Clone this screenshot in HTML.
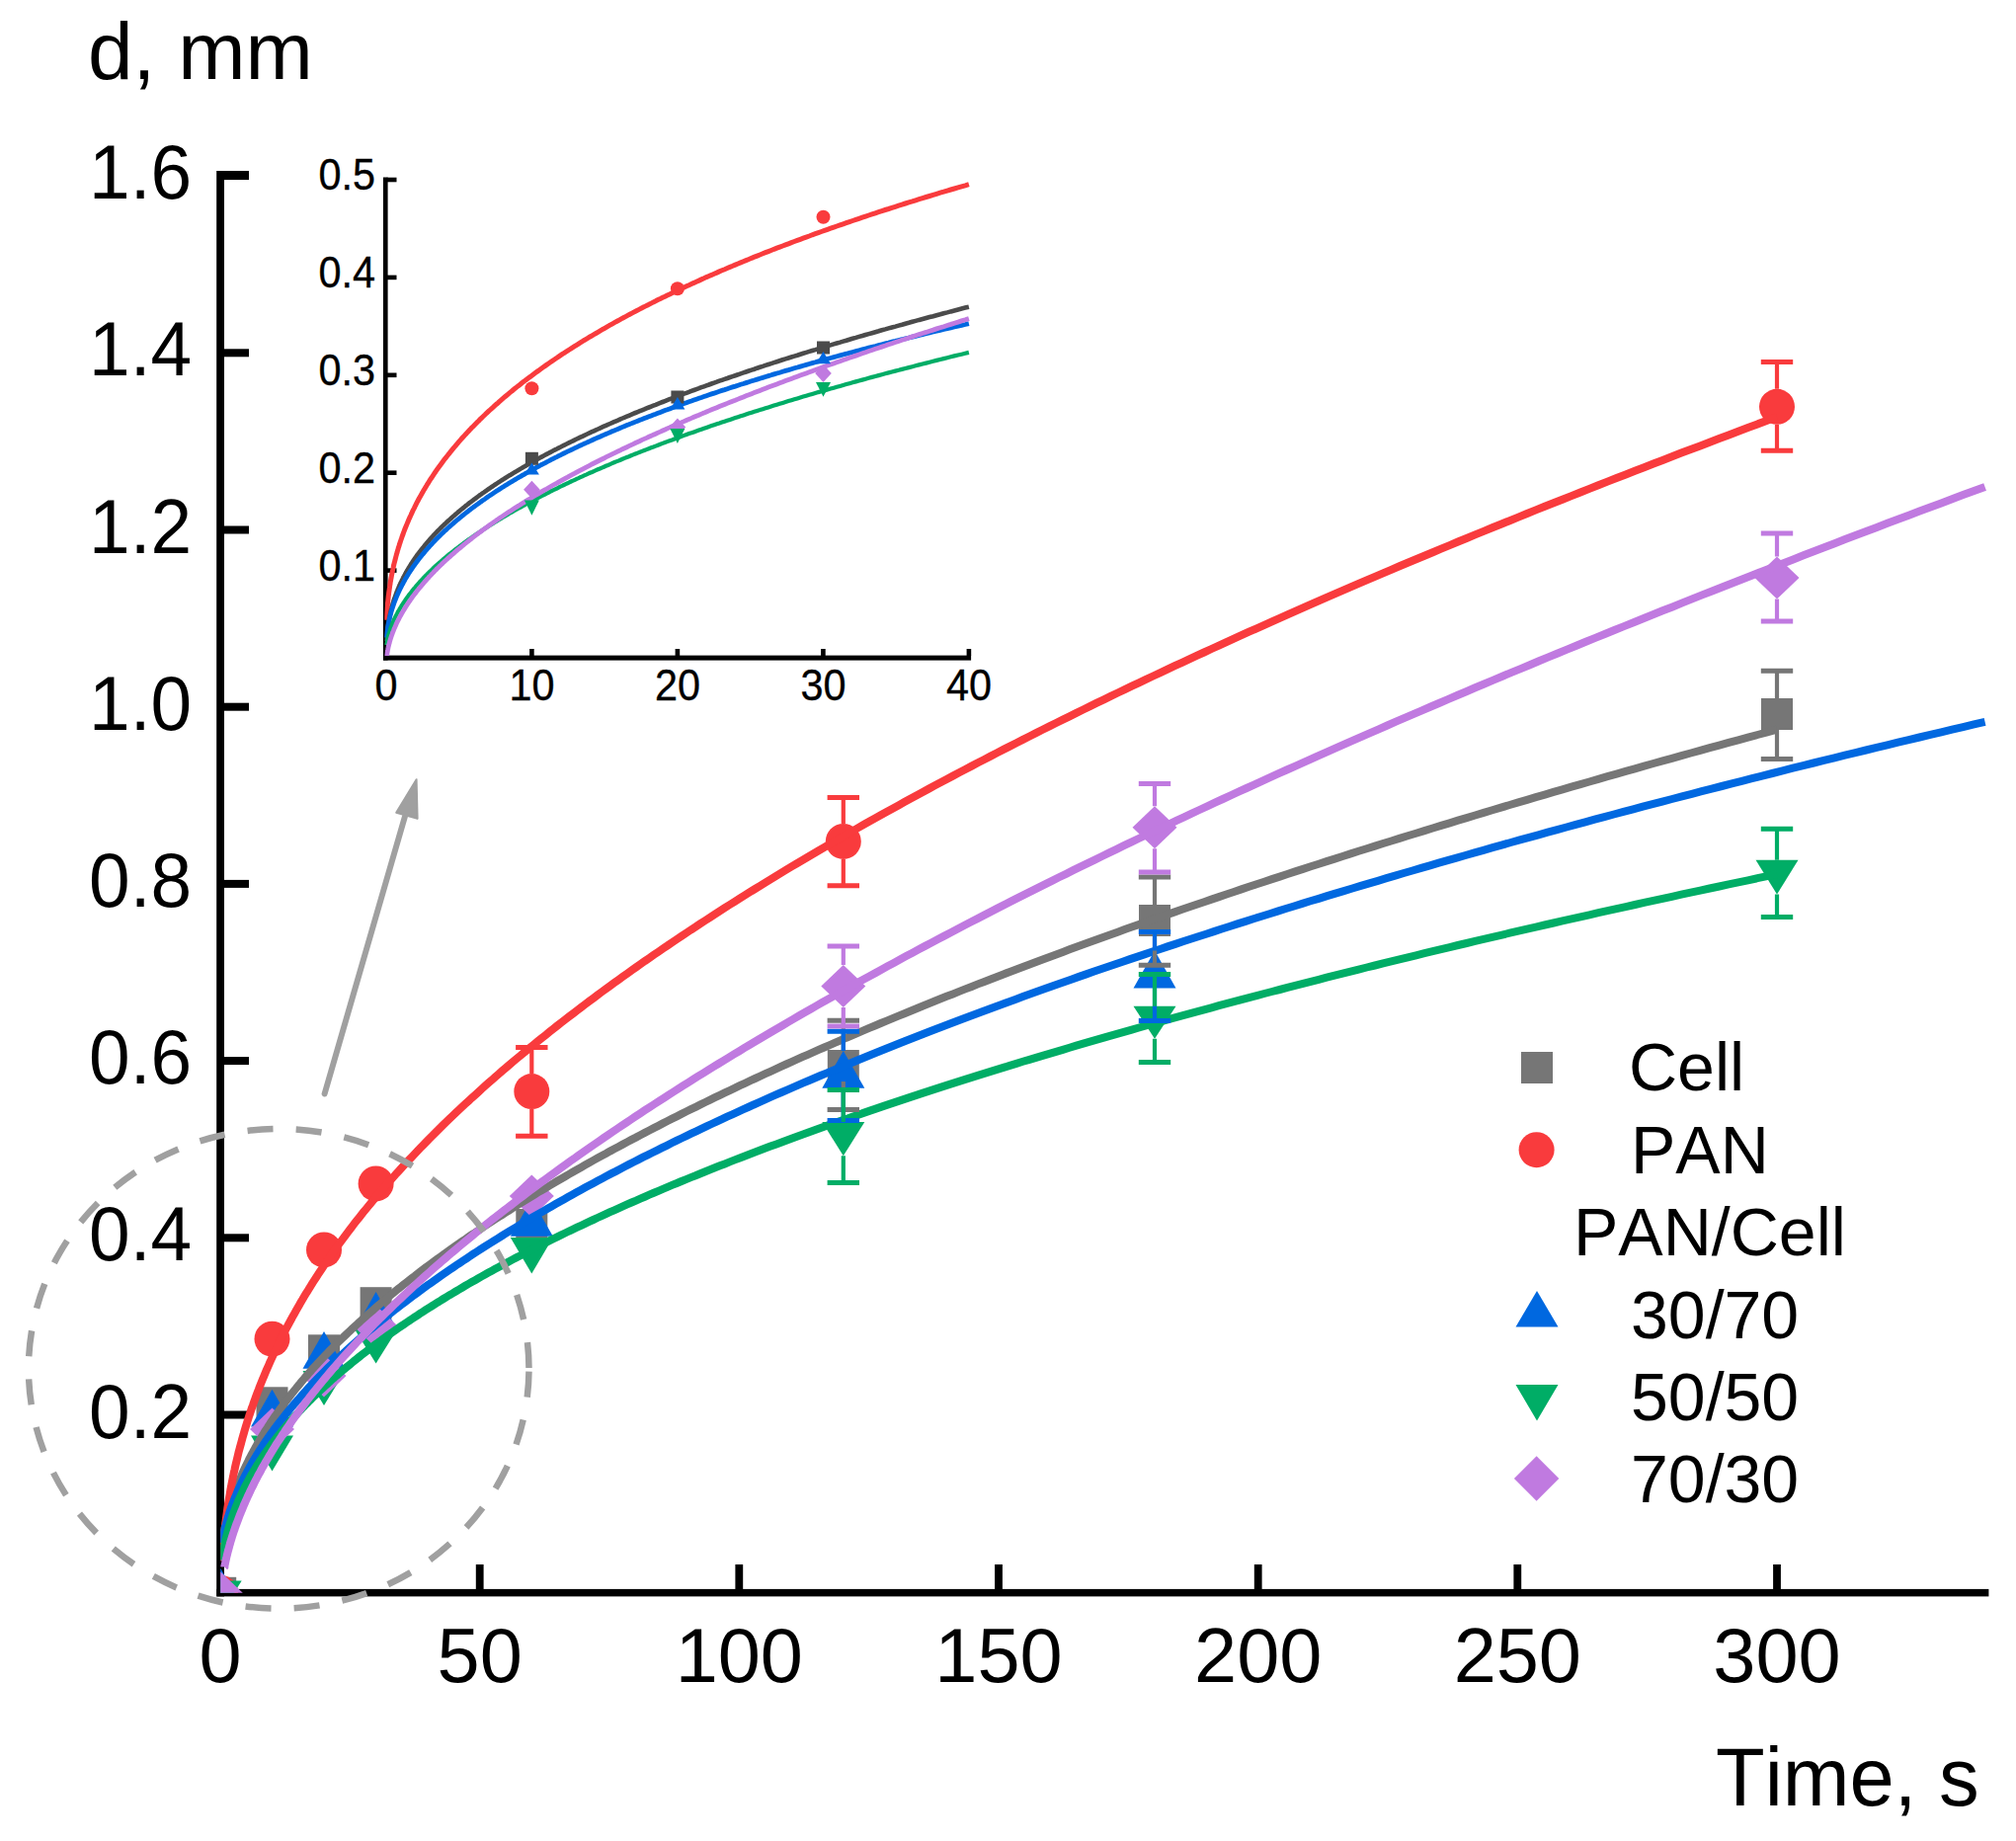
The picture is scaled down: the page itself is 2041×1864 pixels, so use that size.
<!DOCTYPE html><html><head><meta charset="utf-8"><style>html,body{margin:0;padding:0;background:#fff;overflow:hidden}svg{display:block}text{font-family:"Liberation Sans",Arial,sans-serif;font-kerning:none}</style></head><body>
<svg width="2041" height="1864" viewBox="0 0 2041 1864">
<rect width="2041" height="1864" fill="#fff"/>
<defs><clipPath id="pa"><rect x="223.2" y="100" width="1810" height="1512.8"/></clipPath><clipPath id="ia"><rect x="389.3" y="150" width="600" height="514"/></clipPath></defs>
<g fill="#000">
<rect x="219.2" y="173" width="7.8" height="1443.4"/>
<rect x="219.4" y="1608.9" width="1794" height="7.5"/>
<rect x="226" y="1428.5" width="26" height="8.0"/>
<rect x="226" y="1249.3" width="26" height="8.0"/>
<rect x="226" y="1070.1" width="26" height="8.0"/>
<rect x="226" y="890.9" width="26" height="8.0"/>
<rect x="226" y="711.7" width="26" height="8.0"/>
<rect x="226" y="532.5" width="26" height="8.0"/>
<rect x="226" y="353.3" width="26" height="8.0"/>
<rect x="226" y="173.0" width="26" height="9.1"/>
<rect x="481.8" y="1584" width="7.8" height="26"/>
<rect x="744.4" y="1584" width="7.8" height="26"/>
<rect x="1007.1" y="1584" width="7.8" height="26"/>
<rect x="1269.8" y="1584" width="7.8" height="26"/>
<rect x="1532.4" y="1584" width="7.8" height="26"/>
<rect x="1795.1" y="1584" width="7.8" height="26"/>
</g>
<g clip-path="url(#pa)">
<rect x="207.2" y="1596.8" width="32" height="32" fill="#767676"/>
<rect x="259.5" y="1404.3" width="32" height="32" fill="#767676"/>
<rect x="312.0" y="1351.3" width="32" height="32" fill="#767676"/>
<rect x="364.6" y="1303.2" width="32" height="32" fill="#767676"/>
<rect x="522.3" y="1224.0" width="32" height="32" fill="#767676"/>
<rect x="837.8" y="1063.0" width="32" height="32" fill="#767676"/>
<rect x="1153.0" y="916.0" width="32" height="32" fill="#767676"/>
<rect x="1783.0" y="707.0" width="32" height="32" fill="#767676"/>
<circle cx="223.2" cy="1612.8" r="18" fill="#f93b3d"/>
<circle cx="275.5" cy="1355.7" r="18" fill="#f93b3d"/>
<circle cx="328.0" cy="1265.4" r="18" fill="#f93b3d"/>
<circle cx="380.6" cy="1198.4" r="18" fill="#f93b3d"/>
<circle cx="538.3" cy="1105.1" r="18" fill="#f93b3d"/>
<circle cx="853.8" cy="851.9" r="18" fill="#f93b3d"/>
<circle cx="1799.0" cy="411.8" r="18" fill="#f93b3d"/>
<path d="M223.2,1587.8 L244.7,1625.6 L201.7,1625.6Z" fill="#0068e0"/>
<path d="M275.5,1406.7 L297.0,1444.5 L254.0,1444.5Z" fill="#0068e0"/>
<path d="M328.0,1348.0 L349.5,1385.8 L306.5,1385.8Z" fill="#0068e0"/>
<path d="M380.6,1308.1 L402.1,1345.9 L359.1,1345.9Z" fill="#0068e0"/>
<path d="M538.3,1214.0 L559.8,1251.8 L516.8,1251.8Z" fill="#0068e0"/>
<path d="M853.8,1064.0 L875.3,1101.8 L832.3,1101.8Z" fill="#0068e0"/>
<path d="M1169.0,962.6 L1190.5,1000.4 L1147.5,1000.4Z" fill="#0068e0"/>
<path d="M201.7,1600.5 L244.7,1600.5 L223.2,1635.0Z" fill="#00ad66"/>
<path d="M254.0,1453.5 L297.0,1453.5 L275.5,1489.5Z" fill="#00ad66"/>
<path d="M306.5,1388.0 L349.5,1388.0 L328.0,1423.0Z" fill="#00ad66"/>
<path d="M359.1,1346.0 L402.1,1346.0 L380.6,1380.6Z" fill="#00ad66"/>
<path d="M516.8,1253.0 L559.8,1253.0 L538.3,1289.6Z" fill="#00ad66"/>
<path d="M832.3,1136.0 L875.3,1136.0 L853.8,1170.2Z" fill="#00ad66"/>
<path d="M1147.5,1018.7 L1190.5,1018.7 L1169.0,1051.7Z" fill="#00ad66"/>
<path d="M1777.5,870.8 L1820.5,870.8 L1799.0,905.4Z" fill="#00ad66"/>
<path d="M223.2,1591.3 L245.7,1612.8 L223.2,1634.3 L200.7,1612.8Z" fill="#c07ae0"/>
<path d="M275.5,1425.5 L298.0,1447.0 L275.5,1468.5 L253.0,1447.0Z" fill="#c07ae0"/>
<path d="M328.0,1371.5 L350.5,1393.0 L328.0,1414.5 L305.5,1393.0Z" fill="#c07ae0"/>
<path d="M380.6,1321.5 L403.1,1343.0 L380.6,1364.5 L358.1,1343.0Z" fill="#c07ae0"/>
<path d="M538.3,1189.5 L560.8,1211.0 L538.3,1232.5 L515.8,1211.0Z" fill="#c07ae0"/>
<path d="M853.8,976.9 L876.3,998.4 L853.8,1019.9 L831.3,998.4Z" fill="#c07ae0"/>
<path d="M1169.0,816.3 L1191.5,837.8 L1169.0,859.3 L1146.5,837.8Z" fill="#c07ae0"/>
<path d="M1799.0,563.5 L1821.5,585.0 L1799.0,606.5 L1776.5,585.0Z" fill="#c07ae0"/>
</g>
<g clip-path="url(#pa)" fill="none" stroke-width="8">
<path d="M224.8,1563.4 L224.8,1563.4 L224.8,1563.4 L224.8,1563.3 L224.8,1563.3 L224.8,1563.2 L224.8,1563.1 L224.9,1562.9 L224.9,1562.7 L224.9,1562.5 L224.9,1562.2 L225.0,1561.9 L225.0,1561.6 L225.1,1561.2 L225.1,1560.7 L225.2,1560.2 L225.3,1559.7 L225.4,1559.2 L225.5,1558.6 L225.6,1557.9 L225.7,1557.2 L225.8,1556.5 L225.9,1555.8 L226.0,1555.0 L226.2,1554.1 L226.3,1553.3 L226.5,1552.4 L226.7,1551.4 L226.8,1550.5 L227.0,1549.5 L227.2,1548.5 L227.4,1547.4 L227.7,1546.3 L227.9,1545.3 L228.1,1544.1 L228.4,1543.0 L228.6,1541.8 L228.9,1540.6 L229.2,1539.4 L229.5,1538.2 L229.8,1536.9 L230.1,1535.7 L230.4,1534.4 L230.8,1533.1 L231.1,1531.7 L231.5,1530.4 L231.9,1529.0 L232.3,1527.7 L232.7,1526.3 L233.1,1524.9 L233.5,1523.5 L234.0,1522.0 L234.4,1520.6 L234.9,1519.1 L235.4,1517.7 L235.9,1516.2 L236.4,1514.7 L236.9,1513.2 L237.5,1511.7 L238.0,1510.2 L238.6,1508.6 L239.2,1507.1 L239.8,1505.5 L240.4,1503.9 L241.0,1502.4 L241.6,1500.8 L242.3,1499.2 L243.0,1497.6 L243.7,1495.9 L244.4,1494.3 L245.1,1492.7 L245.8,1491.0 L246.6,1489.4 L247.3,1487.7 L248.1,1486.0 L248.9,1484.4 L249.7,1482.7 L250.5,1481.0 L251.4,1479.3 L252.2,1477.6 L253.1,1475.8 L254.0,1474.1 L254.9,1472.4 L255.9,1470.6 L256.8,1468.9 L257.8,1467.1 L258.7,1465.4 L259.7,1463.6 L260.7,1461.8 L261.8,1460.1 L262.8,1458.3 L263.9,1456.5 L265.0,1454.7 L266.1,1452.9 L267.2,1451.0 L268.3,1449.2 L269.5,1447.4 L270.7,1445.6 L271.9,1443.7 L273.1,1441.9 L274.3,1440.0 L275.5,1438.2 L276.8,1436.3 L278.1,1434.4 L279.4,1432.6 L280.7,1430.7 L282.1,1428.8 L283.4,1426.9 L284.8,1425.0 L286.2,1423.1 L287.6,1421.2 L289.0,1419.3 L290.5,1417.4 L292.0,1415.5 L293.5,1413.5 L295.0,1411.6 L296.5,1409.7 L298.1,1407.7 L299.7,1405.8 L301.3,1403.8 L302.9,1401.9 L304.5,1399.9 L306.2,1397.9 L307.8,1396.0 L309.5,1394.0 L311.3,1392.0 L313.0,1390.0 L314.8,1388.0 L316.5,1386.0 L318.3,1384.0 L320.2,1382.0 L322.0,1380.0 L323.9,1378.0 L325.8,1376.0 L327.7,1374.0 L329.6,1372.0 L331.6,1369.9 L333.5,1367.9 L335.5,1365.9 L337.5,1363.8 L339.6,1361.8 L341.6,1359.7 L343.7,1357.7 L345.8,1355.6 L348.0,1353.5 L350.1,1351.5 L352.3,1349.4 L354.5,1347.3 L356.7,1345.2 L358.9,1343.2 L361.2,1341.1 L363.5,1339.0 L365.8,1336.9 L368.1,1334.8 L370.5,1332.7 L372.9,1330.6 L375.3,1328.5 L377.7,1326.4 L380.1,1324.2 L382.6,1322.1 L385.1,1320.0 L387.6,1317.9 L390.1,1315.7 L392.7,1313.6 L395.3,1311.5 L397.9,1309.3 L400.5,1307.2 L403.2,1305.0 L405.9,1302.9 L408.6,1300.7 L411.3,1298.6 L414.1,1296.4 L416.9,1294.2 L419.7,1292.1 L422.5,1289.9 L425.3,1287.7 L428.2,1285.5 L431.1,1283.3 L434.0,1281.2 L437.0,1279.0 L440.0,1276.8 L443.0,1274.6 L446.0,1272.4 L449.0,1270.2 L452.1,1268.0 L455.2,1265.8 L458.4,1263.5 L461.5,1261.3 L464.7,1259.1 L467.9,1256.9 L471.1,1254.7 L474.4,1252.4 L477.6,1250.2 L481.0,1248.0 L484.3,1245.7 L487.6,1243.5 L491.0,1241.2 L494.4,1239.0 L497.9,1236.7 L501.3,1234.5 L504.8,1232.2 L508.3,1230.0 L511.9,1227.7 L515.4,1225.5 L519.0,1223.2 L522.6,1220.9 L526.3,1218.6 L530.0,1216.4 L533.7,1214.1 L537.4,1211.8 L541.1,1209.5 L544.9,1207.2 L548.7,1205.0 L552.6,1202.7 L556.4,1200.4 L560.3,1198.1 L564.2,1195.8 L568.2,1193.5 L572.1,1191.2 L576.1,1188.9 L580.2,1186.5 L584.2,1184.2 L588.3,1181.9 L592.4,1179.6 L596.5,1177.3 L600.7,1174.9 L604.9,1172.6 L609.1,1170.3 L613.4,1168.0 L617.6,1165.6 L621.9,1163.3 L626.3,1160.9 L630.6,1158.6 L635.0,1156.3 L639.4,1153.9 L643.9,1151.6 L648.3,1149.2 L652.8,1146.9 L657.4,1144.5 L661.9,1142.1 L666.5,1139.8 L671.1,1137.4 L675.8,1135.0 L680.4,1132.7 L685.2,1130.3 L689.9,1127.9 L694.6,1125.5 L699.4,1123.2 L704.3,1120.8 L709.1,1118.4 L714.0,1116.0 L718.9,1113.6 L723.8,1111.2 L728.8,1108.8 L733.8,1106.4 L738.8,1104.1 L743.9,1101.7 L748.9,1099.2 L754.1,1096.8 L759.2,1094.4 L764.4,1092.0 L769.6,1089.6 L774.8,1087.2 L780.1,1084.8 L785.4,1082.4 L790.7,1079.9 L796.0,1077.5 L801.4,1075.1 L806.8,1072.7 L812.3,1070.2 L817.8,1067.8 L823.3,1065.4 L828.8,1062.9 L834.4,1060.5 L840.0,1058.1 L845.6,1055.6 L851.3,1053.2 L856.9,1050.7 L862.7,1048.3 L868.4,1045.8 L874.2,1043.4 L880.0,1040.9 L885.9,1038.5 L891.7,1036.0 L897.6,1033.6 L903.6,1031.1 L909.6,1028.6 L915.6,1026.2 L921.6,1023.7 L927.7,1021.2 L933.7,1018.7 L939.9,1016.3 L946.0,1013.8 L952.2,1011.3 L958.4,1008.8 L964.7,1006.4 L971.0,1003.9 L977.3,1001.4 L983.7,998.9 L990.0,996.4 L996.5,993.9 L1002.9,991.4 L1009.4,988.9 L1015.9,986.4 L1022.4,983.9 L1029.0,981.4 L1035.6,978.9 L1042.3,976.4 L1048.9,973.9 L1055.6,971.4 L1062.4,968.9 L1069.2,966.4 L1076.0,963.9 L1082.8,961.3 L1089.7,958.8 L1096.6,956.3 L1103.5,953.8 L1110.5,951.2 L1117.5,948.7 L1124.5,946.2 L1131.6,943.7 L1138.7,941.1 L1145.8,938.6 L1153.0,936.1 L1160.2,933.5 L1167.4,931.0 L1174.7,928.4 L1182.0,925.9 L1189.3,923.4 L1196.7,920.8 L1204.1,918.3 L1211.5,915.7 L1219.0,913.2 L1226.5,910.6 L1234.0,908.1 L1241.6,905.5 L1249.2,903.0 L1256.8,900.4 L1264.5,897.8 L1272.2,895.3 L1280.0,892.7 L1287.7,890.1 L1295.6,887.6 L1303.4,885.0 L1311.3,882.4 L1319.2,879.9 L1327.1,877.3 L1335.1,874.7 L1343.1,872.1 L1351.2,869.6 L1359.3,867.0 L1367.4,864.4 L1375.5,861.8 L1383.7,859.2 L1392.0,856.6 L1400.2,854.0 L1408.5,851.5 L1416.8,848.9 L1425.2,846.3 L1433.6,843.7 L1442.1,841.1 L1450.5,838.5 L1459.0,835.9 L1467.6,833.3 L1476.1,830.7 L1484.8,828.1 L1493.4,825.5 L1502.1,822.9 L1510.8,820.2 L1519.6,817.6 L1528.4,815.0 L1537.2,812.4 L1546.0,809.8 L1554.9,807.2 L1563.9,804.6 L1572.8,801.9 L1581.8,799.3 L1590.9,796.7 L1600.0,794.1 L1609.1,791.5 L1618.2,788.8 L1627.4,786.2 L1636.6,783.6 L1645.9,780.9 L1655.2,778.3 L1664.5,775.7 L1673.9,773.0 L1683.3,770.4 L1692.7,767.8 L1702.2,765.1 L1711.7,762.5 L1721.3,759.8 L1730.9,757.2 L1740.5,754.6 L1750.1,751.9 L1759.8,749.3 L1769.6,746.6 L1779.3,744.0 L1789.1,741.3 L1799.0,738.7" stroke="#767676"/>
<path d="M224.8,1580.6 L224.8,1580.6 L224.8,1580.6 L224.8,1580.5 L224.8,1580.4 L224.8,1580.2 L224.8,1580.0 L224.9,1579.7 L224.9,1579.3 L224.9,1578.8 L224.9,1578.3 L225.0,1577.6 L225.0,1576.9 L225.1,1576.2 L225.1,1575.3 L225.2,1574.3 L225.3,1573.3 L225.4,1572.2 L225.5,1571.0 L225.6,1569.8 L225.7,1568.5 L225.8,1567.1 L225.9,1565.6 L226.0,1564.1 L226.2,1562.5 L226.3,1560.9 L226.5,1559.2 L226.7,1557.4 L226.8,1555.6 L227.0,1553.8 L227.2,1551.9 L227.4,1549.9 L227.7,1548.0 L227.9,1546.0 L228.1,1543.9 L228.4,1541.8 L228.6,1539.7 L228.9,1537.6 L229.2,1535.4 L229.5,1533.2 L229.8,1531.0 L230.1,1528.8 L230.4,1526.5 L230.8,1524.2 L231.1,1521.9 L231.5,1519.6 L231.9,1517.3 L232.3,1514.9 L232.7,1512.6 L233.1,1510.2 L233.5,1507.8 L234.0,1505.3 L234.4,1502.9 L234.9,1500.5 L235.4,1498.0 L235.9,1495.5 L236.4,1493.1 L236.9,1490.6 L237.5,1488.1 L238.0,1485.6 L238.6,1483.0 L239.2,1480.5 L239.8,1478.0 L240.4,1475.4 L241.0,1472.9 L241.6,1470.3 L242.3,1467.7 L243.0,1465.2 L243.7,1462.6 L244.4,1460.0 L245.1,1457.4 L245.8,1454.8 L246.6,1452.2 L247.3,1449.6 L248.1,1446.9 L248.9,1444.3 L249.7,1441.7 L250.5,1439.0 L251.4,1436.4 L252.2,1433.7 L253.1,1431.1 L254.0,1428.4 L254.9,1425.7 L255.9,1423.1 L256.8,1420.4 L257.8,1417.7 L258.7,1415.0 L259.7,1412.3 L260.7,1409.6 L261.8,1406.9 L262.8,1404.2 L263.9,1401.5 L265.0,1398.8 L266.1,1396.1 L267.2,1393.4 L268.3,1390.7 L269.5,1387.9 L270.7,1385.2 L271.9,1382.5 L273.1,1379.7 L274.3,1377.0 L275.5,1374.3 L276.8,1371.5 L278.1,1368.8 L279.4,1366.0 L280.7,1363.2 L282.1,1360.5 L283.4,1357.7 L284.8,1354.9 L286.2,1352.2 L287.6,1349.4 L289.0,1346.6 L290.5,1343.8 L292.0,1341.0 L293.5,1338.3 L295.0,1335.5 L296.5,1332.7 L298.1,1329.9 L299.7,1327.1 L301.3,1324.3 L302.9,1321.5 L304.5,1318.6 L306.2,1315.8 L307.8,1313.0 L309.5,1310.2 L311.3,1307.4 L313.0,1304.5 L314.8,1301.7 L316.5,1298.9 L318.3,1296.1 L320.2,1293.2 L322.0,1290.4 L323.9,1287.5 L325.8,1284.7 L327.7,1281.8 L329.6,1279.0 L331.6,1276.1 L333.5,1273.3 L335.5,1270.4 L337.5,1267.5 L339.6,1264.7 L341.6,1261.8 L343.7,1258.9 L345.8,1256.1 L348.0,1253.2 L350.1,1250.3 L352.3,1247.4 L354.5,1244.5 L356.7,1241.6 L358.9,1238.7 L361.2,1235.8 L363.5,1232.9 L365.8,1230.0 L368.1,1227.1 L370.5,1224.2 L372.9,1221.3 L375.3,1218.4 L377.7,1215.5 L380.1,1212.6 L382.6,1209.7 L385.1,1206.7 L387.6,1203.8 L390.1,1200.9 L392.7,1197.9 L395.3,1195.0 L397.9,1192.1 L400.5,1189.1 L403.2,1186.2 L405.9,1183.2 L408.6,1180.3 L411.3,1177.3 L414.1,1174.4 L416.9,1171.4 L419.7,1168.5 L422.5,1165.5 L425.3,1162.5 L428.2,1159.6 L431.1,1156.6 L434.0,1153.6 L437.0,1150.7 L440.0,1147.7 L443.0,1144.7 L446.0,1141.7 L449.0,1138.7 L452.1,1135.7 L455.2,1132.7 L458.4,1129.7 L461.5,1126.7 L464.7,1123.7 L467.9,1120.7 L471.1,1117.7 L474.4,1114.7 L477.6,1111.7 L481.0,1108.7 L484.3,1105.7 L487.6,1102.6 L491.0,1099.6 L494.4,1096.6 L497.9,1093.6 L501.3,1090.5 L504.8,1087.5 L508.3,1084.4 L511.9,1081.4 L515.4,1078.4 L519.0,1075.3 L522.6,1072.3 L526.3,1069.2 L530.0,1066.2 L533.7,1063.1 L537.4,1060.0 L541.1,1057.0 L544.9,1053.9 L548.7,1050.8 L552.6,1047.8 L556.4,1044.7 L560.3,1041.6 L564.2,1038.5 L568.2,1035.4 L572.1,1032.3 L576.1,1029.3 L580.2,1026.2 L584.2,1023.1 L588.3,1020.0 L592.4,1016.9 L596.5,1013.8 L600.7,1010.7 L604.9,1007.5 L609.1,1004.4 L613.4,1001.3 L617.6,998.2 L621.9,995.1 L626.3,991.9 L630.6,988.8 L635.0,985.7 L639.4,982.5 L643.9,979.4 L648.3,976.3 L652.8,973.1 L657.4,970.0 L661.9,966.8 L666.5,963.7 L671.1,960.5 L675.8,957.4 L680.4,954.2 L685.2,951.0 L689.9,947.9 L694.6,944.7 L699.4,941.5 L704.3,938.4 L709.1,935.2 L714.0,932.0 L718.9,928.8 L723.8,925.6 L728.8,922.4 L733.8,919.2 L738.8,916.0 L743.9,912.8 L748.9,909.6 L754.1,906.4 L759.2,903.2 L764.4,900.0 L769.6,896.8 L774.8,893.6 L780.1,890.4 L785.4,887.1 L790.7,883.9 L796.0,880.7 L801.4,877.4 L806.8,874.2 L812.3,871.0 L817.8,867.7 L823.3,864.5 L828.8,861.2 L834.4,858.0 L840.0,854.7 L845.6,851.5 L851.3,848.2 L856.9,844.9 L862.7,841.7 L868.4,838.4 L874.2,835.1 L880.0,831.8 L885.9,828.6 L891.7,825.3 L897.6,822.0 L903.6,818.7 L909.6,815.4 L915.6,812.1 L921.6,808.8 L927.7,805.5 L933.7,802.2 L939.9,798.9 L946.0,795.6 L952.2,792.3 L958.4,788.9 L964.7,785.6 L971.0,782.3 L977.3,779.0 L983.7,775.6 L990.0,772.3 L996.5,769.0 L1002.9,765.6 L1009.4,762.3 L1015.9,758.9 L1022.4,755.6 L1029.0,752.2 L1035.6,748.9 L1042.3,745.5 L1048.9,742.2 L1055.6,738.8 L1062.4,735.4 L1069.2,732.0 L1076.0,728.7 L1082.8,725.3 L1089.7,721.9 L1096.6,718.5 L1103.5,715.1 L1110.5,711.7 L1117.5,708.3 L1124.5,704.9 L1131.6,701.5 L1138.7,698.1 L1145.8,694.7 L1153.0,691.3 L1160.2,687.9 L1167.4,684.5 L1174.7,681.1 L1182.0,677.6 L1189.3,674.2 L1196.7,670.8 L1204.1,667.3 L1211.5,663.9 L1219.0,660.5 L1226.5,657.0 L1234.0,653.6 L1241.6,650.1 L1249.2,646.7 L1256.8,643.2 L1264.5,639.7 L1272.2,636.3 L1280.0,632.8 L1287.7,629.3 L1295.6,625.9 L1303.4,622.4 L1311.3,618.9 L1319.2,615.4 L1327.1,611.9 L1335.1,608.4 L1343.1,604.9 L1351.2,601.4 L1359.3,597.9 L1367.4,594.4 L1375.5,590.9 L1383.7,587.4 L1392.0,583.9 L1400.2,580.4 L1408.5,576.8 L1416.8,573.3 L1425.2,569.8 L1433.6,566.3 L1442.1,562.7 L1450.5,559.2 L1459.0,555.6 L1467.6,552.1 L1476.1,548.5 L1484.8,545.0 L1493.4,541.4 L1502.1,537.9 L1510.8,534.3 L1519.6,530.7 L1528.4,527.2 L1537.2,523.6 L1546.0,520.0 L1554.9,516.4 L1563.9,512.8 L1572.8,509.3 L1581.8,505.7 L1590.9,502.1 L1600.0,498.5 L1609.1,494.9 L1618.2,491.3 L1627.4,487.6 L1636.6,484.0 L1645.9,480.4 L1655.2,476.8 L1664.5,473.2 L1673.9,469.5 L1683.3,465.9 L1692.7,462.3 L1702.2,458.6 L1711.7,455.0 L1721.3,451.4 L1730.9,447.7 L1740.5,444.1 L1750.1,440.4 L1759.8,436.7 L1769.6,433.1 L1779.3,429.4 L1789.1,425.7 L1799.0,422.1" stroke="#f93b3d"/>
<path d="M224.8,1562.0 L224.8,1562.0 L224.8,1562.0 L224.8,1562.0 L224.8,1561.9 L224.8,1561.9 L224.8,1561.7 L224.9,1561.6 L224.9,1561.4 L224.9,1561.2 L225.0,1561.0 L225.0,1560.7 L225.1,1560.3 L225.1,1560.0 L225.2,1559.6 L225.3,1559.1 L225.4,1558.6 L225.5,1558.1 L225.6,1557.6 L225.7,1557.0 L225.8,1556.3 L225.9,1555.7 L226.1,1555.0 L226.2,1554.2 L226.4,1553.5 L226.5,1552.6 L226.7,1551.8 L226.9,1550.9 L227.1,1550.1 L227.3,1549.1 L227.6,1548.2 L227.8,1547.2 L228.0,1546.2 L228.3,1545.2 L228.6,1544.1 L228.9,1543.1 L229.2,1542.0 L229.5,1540.8 L229.8,1539.7 L230.1,1538.5 L230.5,1537.4 L230.8,1536.2 L231.2,1535.0 L231.6,1533.7 L232.0,1532.5 L232.4,1531.2 L232.8,1529.9 L233.3,1528.6 L233.7,1527.3 L234.2,1525.9 L234.7,1524.6 L235.2,1523.2 L235.7,1521.9 L236.3,1520.5 L236.8,1519.1 L237.4,1517.6 L238.0,1516.2 L238.6,1514.7 L239.2,1513.3 L239.8,1511.8 L240.4,1510.3 L241.1,1508.8 L241.8,1507.3 L242.5,1505.8 L243.2,1504.3 L243.9,1502.7 L244.6,1501.2 L245.4,1499.6 L246.2,1498.0 L247.0,1496.4 L247.8,1494.8 L248.6,1493.2 L249.5,1491.6 L250.3,1490.0 L251.2,1488.3 L252.1,1486.7 L253.0,1485.0 L254.0,1483.4 L254.9,1481.7 L255.9,1480.0 L256.9,1478.3 L257.9,1476.6 L259.0,1474.9 L260.0,1473.2 L261.1,1471.5 L262.2,1469.7 L263.3,1468.0 L264.4,1466.2 L265.6,1464.5 L266.7,1462.7 L267.9,1460.9 L269.1,1459.1 L270.4,1457.3 L271.6,1455.5 L272.9,1453.7 L274.2,1451.9 L275.5,1450.1 L276.8,1448.3 L278.1,1446.4 L279.5,1444.6 L280.9,1442.7 L282.3,1440.9 L283.8,1439.0 L285.2,1437.1 L286.7,1435.3 L288.2,1433.4 L289.7,1431.5 L291.3,1429.6 L292.8,1427.7 L294.4,1425.8 L296.0,1423.8 L297.6,1421.9 L299.3,1420.0 L301.0,1418.0 L302.7,1416.1 L304.4,1414.2 L306.1,1412.2 L307.9,1410.2 L309.7,1408.3 L311.5,1406.3 L313.3,1404.3 L315.2,1402.3 L317.1,1400.3 L319.0,1398.3 L320.9,1396.3 L322.8,1394.3 L324.8,1392.3 L326.8,1390.3 L328.8,1388.3 L330.9,1386.2 L332.9,1384.2 L335.0,1382.2 L337.1,1380.1 L339.3,1378.1 L341.4,1376.0 L343.6,1374.0 L345.9,1371.9 L348.1,1369.8 L350.4,1367.7 L352.6,1365.7 L355.0,1363.6 L357.3,1361.5 L359.6,1359.4 L362.0,1357.3 L364.4,1355.2 L366.9,1353.1 L369.3,1351.0 L371.8,1348.8 L374.3,1346.7 L376.9,1344.6 L379.5,1342.5 L382.0,1340.3 L384.7,1338.2 L387.3,1336.0 L390.0,1333.9 L392.7,1331.7 L395.4,1329.6 L398.1,1327.4 L400.9,1325.2 L403.7,1323.1 L406.5,1320.9 L409.4,1318.7 L412.3,1316.5 L415.2,1314.3 L418.1,1312.1 L421.1,1309.9 L424.1,1307.7 L427.1,1305.5 L430.1,1303.3 L433.2,1301.1 L436.3,1298.9 L439.4,1296.7 L442.6,1294.4 L445.7,1292.2 L448.9,1290.0 L452.2,1287.7 L455.4,1285.5 L458.7,1283.3 L462.0,1281.0 L465.4,1278.8 L468.8,1276.5 L472.2,1274.3 L475.6,1272.0 L479.1,1269.7 L482.5,1267.5 L486.1,1265.2 L489.6,1262.9 L493.2,1260.6 L496.8,1258.4 L500.4,1256.1 L504.1,1253.8 L507.8,1251.5 L511.5,1249.2 L515.2,1246.9 L519.0,1244.6 L522.8,1242.3 L526.7,1240.0 L530.5,1237.7 L534.4,1235.4 L538.3,1233.0 L542.3,1230.7 L546.3,1228.4 L550.3,1226.1 L554.3,1223.7 L558.4,1221.4 L562.5,1219.1 L566.6,1216.7 L570.8,1214.4 L575.0,1212.0 L579.2,1209.7 L583.5,1207.3 L587.8,1205.0 L592.1,1202.6 L596.4,1200.3 L600.8,1197.9 L605.2,1195.5 L609.6,1193.2 L614.1,1190.8 L618.6,1188.4 L623.2,1186.1 L627.7,1183.7 L632.3,1181.3 L636.9,1178.9 L641.6,1176.5 L646.3,1174.1 L651.0,1171.7 L655.8,1169.4 L660.5,1167.0 L665.4,1164.6 L670.2,1162.2 L675.1,1159.8 L680.0,1157.3 L684.9,1154.9 L689.9,1152.5 L694.9,1150.1 L699.9,1147.7 L705.0,1145.3 L710.1,1142.9 L715.3,1140.4 L720.4,1138.0 L725.6,1135.6 L730.9,1133.2 L736.1,1130.7 L741.4,1128.3 L746.8,1125.8 L752.1,1123.4 L757.5,1121.0 L763.0,1118.5 L768.4,1116.1 L773.9,1113.6 L779.4,1111.2 L785.0,1108.7 L790.6,1106.3 L796.2,1103.8 L801.9,1101.4 L807.6,1098.9 L813.3,1096.4 L819.1,1094.0 L824.9,1091.5 L830.7,1089.0 L836.6,1086.6 L842.5,1084.1 L848.4,1081.6 L854.4,1079.2 L860.4,1076.7 L866.4,1074.2 L872.5,1071.7 L878.6,1069.2 L884.7,1066.8 L890.9,1064.3 L897.1,1061.8 L903.4,1059.3 L909.6,1056.8 L915.9,1054.3 L922.3,1051.8 L928.7,1049.3 L935.1,1046.8 L941.5,1044.3 L948.0,1041.8 L954.6,1039.3 L961.1,1036.8 L967.7,1034.3 L974.3,1031.8 L981.0,1029.3 L987.7,1026.8 L994.4,1024.3 L1001.2,1021.7 L1008.0,1019.2 L1014.8,1016.7 L1021.7,1014.2 L1028.6,1011.7 L1035.6,1009.1 L1042.6,1006.6 L1049.6,1004.1 L1056.6,1001.6 L1063.7,999.0 L1070.8,996.5 L1078.0,994.0 L1085.2,991.4 L1092.4,988.9 L1099.7,986.4 L1107.0,983.8 L1114.4,981.3 L1121.8,978.8 L1129.2,976.2 L1136.6,973.7 L1144.1,971.1 L1151.7,968.6 L1159.2,966.1 L1166.8,963.5 L1174.5,961.0 L1182.1,958.4 L1189.9,955.9 L1197.6,953.3 L1205.4,950.8 L1213.2,948.2 L1221.1,945.7 L1229.0,943.1 L1236.9,940.5 L1244.9,938.0 L1252.9,935.4 L1261.0,932.9 L1269.1,930.3 L1277.2,927.7 L1285.3,925.2 L1293.5,922.6 L1301.8,920.0 L1310.1,917.5 L1318.4,914.9 L1326.7,912.3 L1335.1,909.8 L1343.6,907.2 L1352.0,904.6 L1360.5,902.1 L1369.1,899.5 L1377.7,896.9 L1386.3,894.3 L1395.0,891.8 L1403.7,889.2 L1412.4,886.6 L1421.2,884.0 L1430.0,881.5 L1438.8,878.9 L1447.7,876.3 L1456.7,873.7 L1465.6,871.1 L1474.6,868.6 L1483.7,866.0 L1492.8,863.4 L1501.9,860.8 L1511.1,858.2 L1520.3,855.6 L1529.5,853.0 L1538.8,850.4 L1548.2,847.9 L1557.5,845.3 L1566.9,842.7 L1576.4,840.1 L1585.9,837.5 L1595.4,834.9 L1604.9,832.3 L1614.5,829.7 L1624.2,827.1 L1633.9,824.5 L1643.6,821.9 L1653.4,819.3 L1663.2,816.7 L1673.0,814.2 L1682.9,811.6 L1692.8,809.0 L1702.8,806.4 L1712.8,803.8 L1722.8,801.2 L1732.9,798.6 L1743.1,796.0 L1753.2,793.4 L1763.4,790.8 L1773.7,788.2 L1784.0,785.6 L1794.3,783.0 L1804.7,780.4 L1815.1,777.7 L1825.6,775.1 L1836.1,772.5 L1846.6,769.9 L1857.2,767.3 L1867.8,764.7 L1878.5,762.1 L1889.2,759.5 L1899.9,756.9 L1910.7,754.3 L1921.5,751.7 L1932.4,749.1 L1943.3,746.5 L1954.3,743.9 L1965.2,741.3 L1976.3,738.7 L1987.4,736.1 L1998.5,733.4 L2009.6,730.8" stroke="#0068e0"/>
<path d="M224.8,1579.7 L224.8,1579.7 L224.8,1579.7 L224.8,1579.7 L224.8,1579.6 L224.8,1579.5 L224.8,1579.4 L224.9,1579.2 L224.9,1579.0 L224.9,1578.8 L224.9,1578.5 L225.0,1578.2 L225.0,1577.9 L225.1,1577.5 L225.1,1577.0 L225.2,1576.5 L225.3,1576.0 L225.4,1575.4 L225.5,1574.8 L225.6,1574.2 L225.7,1573.5 L225.8,1572.8 L225.9,1572.0 L226.0,1571.2 L226.2,1570.4 L226.3,1569.5 L226.5,1568.6 L226.7,1567.7 L226.8,1566.7 L227.0,1565.7 L227.2,1564.7 L227.4,1563.7 L227.7,1562.6 L227.9,1561.6 L228.1,1560.5 L228.4,1559.3 L228.6,1558.2 L228.9,1557.0 L229.2,1555.8 L229.5,1554.6 L229.8,1553.4 L230.1,1552.2 L230.4,1550.9 L230.8,1549.7 L231.1,1548.4 L231.5,1547.1 L231.9,1545.8 L232.3,1544.5 L232.7,1543.1 L233.1,1541.8 L233.5,1540.4 L234.0,1539.1 L234.4,1537.7 L234.9,1536.3 L235.4,1534.9 L235.9,1533.5 L236.4,1532.1 L236.9,1530.7 L237.5,1529.2 L238.0,1527.8 L238.6,1526.3 L239.2,1524.9 L239.8,1523.4 L240.4,1521.9 L241.0,1520.4 L241.6,1519.0 L242.3,1517.5 L243.0,1515.9 L243.7,1514.4 L244.4,1512.9 L245.1,1511.4 L245.8,1509.9 L246.6,1508.3 L247.3,1506.8 L248.1,1505.2 L248.9,1503.7 L249.7,1502.1 L250.5,1500.6 L251.4,1499.0 L252.2,1497.4 L253.1,1495.8 L254.0,1494.2 L254.9,1492.6 L255.9,1491.0 L256.8,1489.4 L257.8,1487.8 L258.7,1486.2 L259.7,1484.6 L260.7,1483.0 L261.8,1481.4 L262.8,1479.7 L263.9,1478.1 L265.0,1476.5 L266.1,1474.8 L267.2,1473.2 L268.3,1471.5 L269.5,1469.9 L270.7,1468.2 L271.9,1466.6 L273.1,1464.9 L274.3,1463.2 L275.5,1461.5 L276.8,1459.9 L278.1,1458.2 L279.4,1456.5 L280.7,1454.8 L282.1,1453.1 L283.4,1451.4 L284.8,1449.7 L286.2,1448.0 L287.6,1446.3 L289.0,1444.6 L290.5,1442.9 L292.0,1441.2 L293.5,1439.5 L295.0,1437.8 L296.5,1436.0 L298.1,1434.3 L299.7,1432.6 L301.3,1430.9 L302.9,1429.1 L304.5,1427.4 L306.2,1425.6 L307.8,1423.9 L309.5,1422.1 L311.3,1420.4 L313.0,1418.6 L314.8,1416.9 L316.5,1415.1 L318.3,1413.4 L320.2,1411.6 L322.0,1409.8 L323.9,1408.1 L325.8,1406.3 L327.7,1404.5 L329.6,1402.8 L331.6,1401.0 L333.5,1399.2 L335.5,1397.4 L337.5,1395.6 L339.6,1393.8 L341.6,1392.1 L343.7,1390.3 L345.8,1388.5 L348.0,1386.7 L350.1,1384.9 L352.3,1383.1 L354.5,1381.3 L356.7,1379.5 L358.9,1377.7 L361.2,1375.8 L363.5,1374.0 L365.8,1372.2 L368.1,1370.4 L370.5,1368.6 L372.9,1366.8 L375.3,1364.9 L377.7,1363.1 L380.1,1361.3 L382.6,1359.5 L385.1,1357.6 L387.6,1355.8 L390.1,1354.0 L392.7,1352.1 L395.3,1350.3 L397.9,1348.4 L400.5,1346.6 L403.2,1344.8 L405.9,1342.9 L408.6,1341.1 L411.3,1339.2 L414.1,1337.4 L416.9,1335.5 L419.7,1333.6 L422.5,1331.8 L425.3,1329.9 L428.2,1328.1 L431.1,1326.2 L434.0,1324.3 L437.0,1322.5 L440.0,1320.6 L443.0,1318.7 L446.0,1316.9 L449.0,1315.0 L452.1,1313.1 L455.2,1311.2 L458.4,1309.4 L461.5,1307.5 L464.7,1305.6 L467.9,1303.7 L471.1,1301.8 L474.4,1299.9 L477.6,1298.1 L481.0,1296.2 L484.3,1294.3 L487.6,1292.4 L491.0,1290.5 L494.4,1288.6 L497.9,1286.7 L501.3,1284.8 L504.8,1282.9 L508.3,1281.0 L511.9,1279.1 L515.4,1277.2 L519.0,1275.3 L522.6,1273.4 L526.3,1271.5 L530.0,1269.6 L533.7,1267.7 L537.4,1265.7 L541.1,1263.8 L544.9,1261.9 L548.7,1260.0 L552.6,1258.1 L556.4,1256.2 L560.3,1254.2 L564.2,1252.3 L568.2,1250.4 L572.1,1248.5 L576.1,1246.5 L580.2,1244.6 L584.2,1242.7 L588.3,1240.8 L592.4,1238.8 L596.5,1236.9 L600.7,1235.0 L604.9,1233.0 L609.1,1231.1 L613.4,1229.1 L617.6,1227.2 L621.9,1225.3 L626.3,1223.3 L630.6,1221.4 L635.0,1219.4 L639.4,1217.5 L643.9,1215.6 L648.3,1213.6 L652.8,1211.7 L657.4,1209.7 L661.9,1207.8 L666.5,1205.8 L671.1,1203.9 L675.8,1201.9 L680.4,1199.9 L685.2,1198.0 L689.9,1196.0 L694.6,1194.1 L699.4,1192.1 L704.3,1190.2 L709.1,1188.2 L714.0,1186.2 L718.9,1184.3 L723.8,1182.3 L728.8,1180.3 L733.8,1178.4 L738.8,1176.4 L743.9,1174.4 L748.9,1172.5 L754.1,1170.5 L759.2,1168.5 L764.4,1166.6 L769.6,1164.6 L774.8,1162.6 L780.1,1160.6 L785.4,1158.7 L790.7,1156.7 L796.0,1154.7 L801.4,1152.7 L806.8,1150.7 L812.3,1148.8 L817.8,1146.8 L823.3,1144.8 L828.8,1142.8 L834.4,1140.8 L840.0,1138.8 L845.6,1136.8 L851.3,1134.9 L856.9,1132.9 L862.7,1130.9 L868.4,1128.9 L874.2,1126.9 L880.0,1124.9 L885.9,1122.9 L891.7,1120.9 L897.6,1118.9 L903.6,1116.9 L909.6,1114.9 L915.6,1112.9 L921.6,1110.9 L927.7,1108.9 L933.7,1106.9 L939.9,1104.9 L946.0,1102.9 L952.2,1100.9 L958.4,1098.9 L964.7,1096.9 L971.0,1094.9 L977.3,1092.9 L983.7,1090.9 L990.0,1088.9 L996.5,1086.9 L1002.9,1084.9 L1009.4,1082.9 L1015.9,1080.9 L1022.4,1078.9 L1029.0,1076.9 L1035.6,1074.8 L1042.3,1072.8 L1048.9,1070.8 L1055.6,1068.8 L1062.4,1066.8 L1069.2,1064.8 L1076.0,1062.8 L1082.8,1060.7 L1089.7,1058.7 L1096.6,1056.7 L1103.5,1054.7 L1110.5,1052.7 L1117.5,1050.6 L1124.5,1048.6 L1131.6,1046.6 L1138.7,1044.6 L1145.8,1042.6 L1153.0,1040.5 L1160.2,1038.5 L1167.4,1036.5 L1174.7,1034.5 L1182.0,1032.4 L1189.3,1030.4 L1196.7,1028.4 L1204.1,1026.3 L1211.5,1024.3 L1219.0,1022.3 L1226.5,1020.3 L1234.0,1018.2 L1241.6,1016.2 L1249.2,1014.2 L1256.8,1012.1 L1264.5,1010.1 L1272.2,1008.1 L1280.0,1006.0 L1287.7,1004.0 L1295.6,1002.0 L1303.4,999.9 L1311.3,997.9 L1319.2,995.8 L1327.1,993.8 L1335.1,991.8 L1343.1,989.7 L1351.2,987.7 L1359.3,985.7 L1367.4,983.6 L1375.5,981.6 L1383.7,979.5 L1392.0,977.5 L1400.2,975.4 L1408.5,973.4 L1416.8,971.4 L1425.2,969.3 L1433.6,967.3 L1442.1,965.2 L1450.5,963.2 L1459.0,961.1 L1467.6,959.1 L1476.1,957.0 L1484.8,955.0 L1493.4,952.9 L1502.1,950.9 L1510.8,948.8 L1519.6,946.8 L1528.4,944.7 L1537.2,942.7 L1546.0,940.6 L1554.9,938.6 L1563.9,936.5 L1572.8,934.5 L1581.8,932.4 L1590.9,930.4 L1600.0,928.3 L1609.1,926.3 L1618.2,924.2 L1627.4,922.2 L1636.6,920.1 L1645.9,918.1 L1655.2,916.0 L1664.5,913.9 L1673.9,911.9 L1683.3,909.8 L1692.7,907.8 L1702.2,905.7 L1711.7,903.7 L1721.3,901.6 L1730.9,899.5 L1740.5,897.5 L1750.1,895.4 L1759.8,893.4 L1769.6,891.3 L1779.3,889.2 L1789.1,887.2 L1799.0,885.1" stroke="#00ad66"/>
<path d="M227.2,1586.6 L227.2,1586.6 L227.2,1586.6 L227.2,1586.5 L227.2,1586.5 L227.2,1586.4 L227.3,1586.3 L227.3,1586.2 L227.3,1586.1 L227.3,1585.9 L227.4,1585.7 L227.4,1585.4 L227.5,1585.2 L227.5,1584.9 L227.6,1584.5 L227.7,1584.1 L227.8,1583.7 L227.9,1583.3 L228.0,1582.8 L228.1,1582.2 L228.2,1581.7 L228.3,1581.1 L228.5,1580.4 L228.6,1579.7 L228.8,1579.0 L229.0,1578.3 L229.1,1577.5 L229.3,1576.7 L229.5,1575.8 L229.7,1574.9 L230.0,1574.0 L230.2,1573.0 L230.4,1572.1 L230.7,1571.0 L231.0,1570.0 L231.3,1568.9 L231.6,1567.8 L231.9,1566.7 L232.2,1565.5 L232.5,1564.3 L232.9,1563.1 L233.2,1561.8 L233.6,1560.6 L234.0,1559.3 L234.4,1557.9 L234.8,1556.6 L235.2,1555.2 L235.7,1553.8 L236.1,1552.4 L236.6,1551.0 L237.1,1549.5 L237.6,1548.1 L238.1,1546.6 L238.7,1545.0 L239.2,1543.5 L239.8,1542.0 L240.4,1540.4 L241.0,1538.8 L241.6,1537.2 L242.2,1535.6 L242.8,1533.9 L243.5,1532.3 L244.2,1530.6 L244.9,1528.9 L245.6,1527.2 L246.3,1525.5 L247.0,1523.7 L247.8,1522.0 L248.6,1520.2 L249.4,1518.4 L250.2,1516.6 L251.0,1514.8 L251.9,1513.0 L252.7,1511.2 L253.6,1509.3 L254.5,1507.4 L255.4,1505.6 L256.4,1503.7 L257.3,1501.8 L258.3,1499.8 L259.3,1497.9 L260.3,1496.0 L261.3,1494.0 L262.4,1492.1 L263.5,1490.1 L264.5,1488.1 L265.6,1486.1 L266.8,1484.1 L267.9,1482.1 L269.1,1480.0 L270.3,1478.0 L271.5,1475.9 L272.7,1473.9 L274.0,1471.8 L275.2,1469.7 L276.5,1467.6 L277.8,1465.5 L279.1,1463.4 L280.5,1461.2 L281.9,1459.1 L283.3,1457.0 L284.7,1454.8 L286.1,1452.6 L287.6,1450.5 L289.0,1448.3 L290.5,1446.1 L292.0,1443.9 L293.6,1441.6 L295.1,1439.4 L296.7,1437.2 L298.3,1434.9 L300.0,1432.7 L301.6,1430.4 L303.3,1428.1 L305.0,1425.9 L306.7,1423.6 L308.4,1421.3 L310.2,1418.9 L312.0,1416.6 L313.8,1414.3 L315.6,1412.0 L317.5,1409.6 L319.4,1407.3 L321.2,1404.9 L323.2,1402.5 L325.1,1400.2 L327.1,1397.8 L329.1,1395.4 L331.1,1393.0 L333.1,1390.6 L335.2,1388.1 L337.3,1385.7 L339.4,1383.3 L341.5,1380.8 L343.7,1378.4 L345.9,1375.9 L348.1,1373.4 L350.3,1371.0 L352.6,1368.5 L354.9,1366.0 L357.2,1363.5 L359.5,1361.0 L361.9,1358.4 L364.3,1355.9 L366.7,1353.4 L369.1,1350.8 L371.6,1348.3 L374.1,1345.7 L376.6,1343.2 L379.1,1340.6 L381.7,1338.0 L384.2,1335.4 L386.9,1332.8 L389.5,1330.2 L392.2,1327.6 L394.9,1325.0 L397.6,1322.4 L400.3,1319.7 L403.1,1317.1 L405.9,1314.5 L408.7,1311.8 L411.6,1309.1 L414.4,1306.5 L417.3,1303.8 L420.3,1301.1 L423.2,1298.4 L426.2,1295.7 L429.2,1293.0 L432.3,1290.3 L435.3,1287.6 L438.4,1284.8 L441.5,1282.1 L444.7,1279.4 L447.9,1276.6 L451.1,1273.9 L454.3,1271.1 L457.5,1268.3 L460.8,1265.6 L464.1,1262.8 L467.5,1260.0 L470.9,1257.2 L474.3,1254.4 L477.7,1251.6 L481.1,1248.7 L484.6,1245.9 L488.1,1243.1 L491.7,1240.2 L495.2,1237.4 L498.8,1234.5 L502.5,1231.7 L506.1,1228.8 L509.8,1225.9 L513.5,1223.1 L517.3,1220.2 L521.0,1217.3 L524.8,1214.4 L528.7,1211.5 L532.5,1208.6 L536.4,1205.6 L540.3,1202.7 L544.3,1199.8 L548.3,1196.8 L552.3,1193.9 L556.3,1190.9 L560.4,1188.0 L564.5,1185.0 L568.6,1182.0 L572.8,1179.0 L576.9,1176.0 L581.2,1173.1 L585.4,1170.0 L589.7,1167.0 L594.0,1164.0 L598.3,1161.0 L602.7,1158.0 L607.1,1154.9 L611.5,1151.9 L616.0,1148.9 L620.5,1145.8 L625.0,1142.7 L629.6,1139.7 L634.2,1136.6 L638.8,1133.5 L643.4,1130.4 L648.1,1127.3 L652.8,1124.2 L657.6,1121.1 L662.4,1118.0 L667.2,1114.9 L672.0,1111.8 L676.9,1108.7 L681.8,1105.5 L686.7,1102.4 L691.7,1099.2 L696.7,1096.1 L701.7,1092.9 L706.8,1089.7 L711.9,1086.6 L717.0,1083.4 L722.2,1080.2 L727.4,1077.0 L732.6,1073.8 L737.9,1070.6 L743.1,1067.4 L748.5,1064.2 L753.8,1060.9 L759.2,1057.7 L764.6,1054.5 L770.1,1051.2 L775.6,1048.0 L781.1,1044.7 L786.7,1041.5 L792.3,1038.2 L797.9,1034.9 L803.5,1031.6 L809.2,1028.3 L814.9,1025.1 L820.7,1021.8 L826.5,1018.4 L832.3,1015.1 L838.2,1011.8 L844.1,1008.5 L850.0,1005.2 L855.9,1001.8 L861.9,998.5 L868.0,995.1 L874.0,991.8 L880.1,988.4 L886.3,985.1 L892.4,981.7 L898.6,978.3 L904.9,974.9 L911.1,971.5 L917.4,968.1 L923.8,964.7 L930.1,961.3 L936.5,957.9 L943.0,954.5 L949.5,951.0 L956.0,947.6 L962.5,944.2 L969.1,940.7 L975.7,937.3 L982.4,933.8 L989.1,930.4 L995.8,926.9 L1002.6,923.4 L1009.3,919.9 L1016.2,916.4 L1023.0,912.9 L1029.9,909.4 L1036.9,905.9 L1043.9,902.4 L1050.9,898.9 L1057.9,895.4 L1065.0,891.9 L1072.1,888.3 L1079.3,884.8 L1086.5,881.2 L1093.7,877.7 L1101.0,874.1 L1108.3,870.6 L1115.6,867.0 L1123.0,863.4 L1130.4,859.8 L1137.8,856.2 L1145.3,852.6 L1152.8,849.0 L1160.4,845.4 L1168.0,841.8 L1175.6,838.2 L1183.3,834.6 L1191.0,830.9 L1198.7,827.3 L1206.5,823.7 L1214.3,820.0 L1222.2,816.4 L1230.0,812.7 L1238.0,809.0 L1245.9,805.4 L1253.9,801.7 L1262.0,798.0 L1270.1,794.3 L1278.2,790.6 L1286.3,786.9 L1294.5,783.2 L1302.7,779.5 L1311.0,775.8 L1319.3,772.1 L1327.7,768.3 L1336.0,764.6 L1344.5,760.8 L1352.9,757.1 L1361.4,753.3 L1369.9,749.6 L1378.5,745.8 L1387.1,742.1 L1395.8,738.3 L1404.5,734.5 L1413.2,730.7 L1422.0,726.9 L1430.8,723.1 L1439.6,719.3 L1448.5,715.5 L1457.4,711.7 L1466.4,707.9 L1475.4,704.0 L1484.4,700.2 L1493.5,696.3 L1502.6,692.5 L1511.8,688.6 L1521.0,684.8 L1530.2,680.9 L1539.5,677.1 L1548.8,673.2 L1558.1,669.3 L1567.5,665.4 L1577.0,661.5 L1586.4,657.6 L1595.9,653.7 L1605.5,649.8 L1615.1,645.9 L1624.7,642.0 L1634.4,638.0 L1644.1,634.1 L1653.8,630.2 L1663.6,626.2 L1673.5,622.3 L1683.3,618.3 L1693.3,614.4 L1703.2,610.4 L1713.2,606.4 L1723.2,602.4 L1733.3,598.5 L1743.4,594.5 L1753.6,590.5 L1763.8,586.5 L1774.0,582.5 L1784.3,578.4 L1794.6,574.4 L1805.0,570.4 L1815.4,566.4 L1825.8,562.3 L1836.3,558.3 L1846.8,554.3 L1857.4,550.2 L1868.0,546.1 L1878.6,542.1 L1889.3,538.0 L1900.1,533.9 L1910.8,529.8 L1921.6,525.8 L1932.5,521.7 L1943.4,517.6 L1954.3,513.5 L1965.3,509.4 L1976.3,505.2 L1987.4,501.1 L1998.5,497.0 L2009.6,492.9" stroke="#c07ae0"/>
</g>
<g clip-path="url(#pa)">
<path d="M853.8,1033.3 V1063 M853.8,1095 V1123.4" stroke="#767676" stroke-width="4.2" fill="none"/>
<path d="M837.5999999999999,1033.3 H870.0 M837.5999999999999,1123.4 H870.0" stroke="#767676" stroke-width="5" fill="none"/>
<path d="M1169.0,887.9 V916 M1169.0,948 V977.3" stroke="#767676" stroke-width="4.2" fill="none"/>
<path d="M1152.8,887.9 H1185.2 M1152.8,977.3 H1185.2" stroke="#767676" stroke-width="5" fill="none"/>
<path d="M1799.0,679.3 V707 M1799.0,739 V768.4" stroke="#767676" stroke-width="4.2" fill="none"/>
<path d="M1782.8,679.3 H1815.2 M1782.8,768.4 H1815.2" stroke="#767676" stroke-width="5" fill="none"/>
<path d="M538.3,1060.5 V1087.1 M538.3,1123.1 V1150.3" stroke="#f93b3d" stroke-width="4.2" fill="none"/>
<path d="M522.0999999999999,1060.5 H554.5 M522.0999999999999,1150.3 H554.5" stroke="#f93b3d" stroke-width="5" fill="none"/>
<path d="M853.8,807.4 V833.9 M853.8,869.9 V896.8" stroke="#f93b3d" stroke-width="4.2" fill="none"/>
<path d="M837.5999999999999,807.4 H870.0 M837.5999999999999,896.8 H870.0" stroke="#f93b3d" stroke-width="5" fill="none"/>
<path d="M1799.0,366.5 V393.8 M1799.0,429.8 V456.3" stroke="#f93b3d" stroke-width="4.2" fill="none"/>
<path d="M1782.8,366.5 H1815.2 M1782.8,456.3 H1815.2" stroke="#f93b3d" stroke-width="5" fill="none"/>
<path d="M853.8,1044.3 V1064 M853.8,1101.8 V1134.4" stroke="#0068e0" stroke-width="4.2" fill="none"/>
<path d="M837.5999999999999,1044.3 H870.0 M837.5999999999999,1134.4 H870.0" stroke="#0068e0" stroke-width="5" fill="none"/>
<path d="M1169.0,943.4 V962.6 M1169.0,1000.4 V1033.5" stroke="#0068e0" stroke-width="4.2" fill="none"/>
<path d="M1152.8,943.4 H1185.2 M1152.8,1033.5 H1185.2" stroke="#0068e0" stroke-width="5" fill="none"/>
<path d="M853.8,1103.6 V1136 M853.8,1170.2 V1197.6" stroke="#00ad66" stroke-width="4.2" fill="none"/>
<path d="M837.5999999999999,1103.6 H870.0 M837.5999999999999,1197.6 H870.0" stroke="#00ad66" stroke-width="5" fill="none"/>
<path d="M1169.0,986.5 V1018.7 M1169.0,1051.7 V1075.6" stroke="#00ad66" stroke-width="4.2" fill="none"/>
<path d="M1152.8,986.5 H1185.2 M1152.8,1075.6 H1185.2" stroke="#00ad66" stroke-width="5" fill="none"/>
<path d="M1799.0,839.3 V870.8 M1799.0,905.4 V928.4" stroke="#00ad66" stroke-width="4.2" fill="none"/>
<path d="M1782.8,839.3 H1815.2 M1782.8,928.4 H1815.2" stroke="#00ad66" stroke-width="5" fill="none"/>
<path d="M853.8,958 V976.9 M853.8,1019.9 V1039" stroke="#c07ae0" stroke-width="4.2" fill="none"/>
<path d="M837.5999999999999,958 H870.0 M837.5999999999999,1039 H870.0" stroke="#c07ae0" stroke-width="5" fill="none"/>
<path d="M1169.0,793.5 V816.3 M1169.0,859.3 V883" stroke="#c07ae0" stroke-width="4.2" fill="none"/>
<path d="M1152.8,793.5 H1185.2 M1152.8,883 H1185.2" stroke="#c07ae0" stroke-width="5" fill="none"/>
<path d="M1799.0,540 V563.5 M1799.0,606.5 V629" stroke="#c07ae0" stroke-width="4.2" fill="none"/>
<path d="M1782.8,540 H1815.2 M1782.8,629 H1815.2" stroke="#c07ae0" stroke-width="5" fill="none"/>
</g>
<g font-size="77.5" fill="#000">
<text transform="translate(194,1455.5) scale(0.965,1)" text-anchor="end">0.2</text>
<text transform="translate(194,1276.3) scale(0.965,1)" text-anchor="end">0.4</text>
<text transform="translate(194,1097.1) scale(0.965,1)" text-anchor="end">0.6</text>
<text transform="translate(194,917.9) scale(0.965,1)" text-anchor="end">0.8</text>
<text transform="translate(194,738.7) scale(0.965,1)" text-anchor="end">1.0</text>
<text transform="translate(194,559.5) scale(0.965,1)" text-anchor="end">1.2</text>
<text transform="translate(194,380.3) scale(0.965,1)" text-anchor="end">1.4</text>
<text transform="translate(194,201.1) scale(0.965,1)" text-anchor="end">1.6</text>
<text x="223.0" y="1703" text-anchor="middle">0</text>
<text x="485.7" y="1703" text-anchor="middle">50</text>
<text x="748.3" y="1703" text-anchor="middle">100</text>
<text x="1011.0" y="1703" text-anchor="middle">150</text>
<text x="1273.7" y="1703" text-anchor="middle">200</text>
<text x="1536.3" y="1703" text-anchor="middle">250</text>
<text x="1799.0" y="1703" text-anchor="middle">300</text>
</g>
<text x="89" y="80" font-size="82">d, mm</text>
<text transform="translate(1737,1827.5) scale(0.98,1)" font-size="83">Time, s</text>
<path d="M535.5,1385.8 A253.3,242.8 0 0 1 28.899999999999977,1385.8 A253.3,242.8 0 0 1 535.5,1385.8" fill="none" stroke="#a0a0a0" stroke-width="6.5" stroke-dasharray="26 23.3" stroke-dashoffset="46.4"/>
<path d="M328.6,1107.5 L410,826.5" stroke="#a0a0a0" stroke-width="6" stroke-linecap="round"/>
<path d="M421.6,789.2 L422.6,828.9 L401.2,822.8Z" fill="#a0a0a0" stroke="#a0a0a0" stroke-width="2" stroke-linejoin="round"/>
<g fill="#000">
<rect x="387.9" y="179.5" width="4.7" height="489"/>
<rect x="388.1" y="663.6" width="595" height="5"/>
<rect x="391.5" y="575.3" width="10" height="4.6"/>
<rect x="391.5" y="476.4" width="10" height="4.6"/>
<rect x="391.5" y="377.5" width="10" height="4.6"/>
<rect x="391.5" y="278.6" width="10" height="4.6"/>
<rect x="391.5" y="179.7" width="10" height="4.6"/>
<rect x="536.1" y="657" width="4.6" height="7"/>
<rect x="683.6" y="657" width="4.6" height="7"/>
<rect x="831.1" y="657" width="4.6" height="7"/>
<rect x="978.6" y="657" width="4.6" height="7"/>
</g>
<g clip-path="url(#ia)" fill="none">
<path d="M391.3,627.7 L391.3,627.7 L391.3,627.7 L391.3,627.7 L391.3,627.6 L391.4,627.5 L391.4,627.4 L391.4,627.2 L391.4,627.0 L391.4,626.7 L391.4,626.5 L391.4,626.1 L391.4,625.8 L391.5,625.4 L391.5,624.9 L391.5,624.5 L391.5,623.9 L391.6,623.4 L391.6,622.8 L391.6,622.2 L391.7,621.5 L391.7,620.8 L391.8,620.1 L391.8,619.4 L391.9,618.6 L391.9,617.8 L392.0,617.0 L392.0,616.2 L392.1,615.3 L392.2,614.5 L392.3,613.6 L392.3,612.7 L392.4,611.8 L392.5,610.8 L392.6,609.9 L392.7,608.9 L392.8,608.0 L392.9,607.0 L393.0,606.0 L393.1,605.0 L393.2,604.0 L393.3,603.0 L393.5,602.0 L393.6,600.9 L393.7,599.9 L393.9,598.8 L394.0,597.8 L394.2,596.7 L394.3,595.7 L394.5,594.6 L394.6,593.5 L394.8,592.4 L395.0,591.3 L395.1,590.2 L395.3,589.1 L395.5,588.0 L395.7,586.9 L395.9,585.8 L396.1,584.7 L396.3,583.6 L396.5,582.5 L396.7,581.3 L397.0,580.2 L397.2,579.1 L397.4,578.0 L397.7,576.8 L397.9,575.7 L398.2,574.5 L398.4,573.4 L398.7,572.2 L398.9,571.1 L399.2,569.9 L399.5,568.8 L399.8,567.6 L400.1,566.5 L400.4,565.3 L400.7,564.2 L401.0,563.0 L401.3,561.8 L401.6,560.7 L402.0,559.5 L402.3,558.3 L402.6,557.2 L403.0,556.0 L403.3,554.8 L403.7,553.6 L404.1,552.5 L404.4,551.3 L404.8,550.1 L405.2,548.9 L405.6,547.7 L406.0,546.5 L406.4,545.4 L406.8,544.2 L407.2,543.0 L407.7,541.8 L408.1,540.6 L408.5,539.4 L409.0,538.2 L409.4,537.0 L409.9,535.8 L410.3,534.7 L410.8,533.5 L411.3,532.3 L411.8,531.1 L412.3,529.9 L412.8,528.7 L413.3,527.5 L413.8,526.3 L414.3,525.1 L414.9,523.9 L415.4,522.7 L416.0,521.5 L416.5,520.3 L417.1,519.1 L417.6,517.9 L418.2,516.7 L418.8,515.5 L419.4,514.3 L420.0,513.0 L420.6,511.8 L421.2,510.6 L421.8,509.4 L422.4,508.2 L423.1,507.0 L423.7,505.8 L424.4,504.6 L425.0,503.4 L425.7,502.2 L426.4,501.0 L427.1,499.8 L427.8,498.6 L428.5,497.3 L429.2,496.1 L429.9,494.9 L430.6,493.7 L431.3,492.5 L432.1,491.3 L432.8,490.1 L433.6,488.9 L434.3,487.7 L435.1,486.4 L435.9,485.2 L436.7,484.0 L437.5,482.8 L438.3,481.6 L439.1,480.4 L439.9,479.2 L440.7,478.0 L441.6,476.7 L442.4,475.5 L443.3,474.3 L444.2,473.1 L445.0,471.9 L445.9,470.7 L446.8,469.5 L447.7,468.3 L448.6,467.0 L449.5,465.8 L450.4,464.6 L451.4,463.4 L452.3,462.2 L453.3,461.0 L454.2,459.8 L455.2,458.6 L456.2,457.3 L457.2,456.1 L458.2,454.9 L459.2,453.7 L460.2,452.5 L461.2,451.3 L462.2,450.1 L463.3,448.9 L464.3,447.6 L465.4,446.4 L466.5,445.2 L467.5,444.0 L468.6,442.8 L469.7,441.6 L470.8,440.4 L471.9,439.2 L473.1,437.9 L474.2,436.7 L475.3,435.5 L476.5,434.3 L477.6,433.1 L478.8,431.9 L480.0,430.7 L481.2,429.5 L482.4,428.3 L483.6,427.1 L484.8,425.9 L486.0,424.6 L487.3,423.4 L488.5,422.2 L489.8,421.0 L491.1,419.8 L492.3,418.6 L493.6,417.4 L494.9,416.2 L496.2,415.0 L497.5,413.8 L498.9,412.6 L500.2,411.4 L501.5,410.2 L502.9,409.0 L504.3,407.8 L505.6,406.5 L507.0,405.3 L508.4,404.1 L509.8,402.9 L511.2,401.7 L512.7,400.5 L514.1,399.3 L515.5,398.1 L517.0,396.9 L518.5,395.7 L519.9,394.5 L521.4,393.3 L522.9,392.1 L524.4,390.9 L526.0,389.7 L527.5,388.5 L529.0,387.3 L530.6,386.1 L532.1,384.9 L533.7,383.7 L535.3,382.5 L536.9,381.4 L538.5,380.2 L540.1,379.0 L541.7,377.8 L543.3,376.6 L545.0,375.4 L546.6,374.2 L548.3,373.0 L550.0,371.8 L551.7,370.6 L553.4,369.4 L555.1,368.2 L556.8,367.0 L558.5,365.9 L560.2,364.7 L562.0,363.5 L563.8,362.3 L565.5,361.1 L567.3,359.9 L569.1,358.7 L570.9,357.5 L572.7,356.4 L574.6,355.2 L576.4,354.0 L578.2,352.8 L580.1,351.6 L582.0,350.4 L583.8,349.3 L585.7,348.1 L587.6,346.9 L589.6,345.7 L591.5,344.5 L593.4,343.4 L595.4,342.2 L597.3,341.0 L599.3,339.8 L601.3,338.6 L603.3,337.5 L605.3,336.3 L607.3,335.1 L609.3,333.9 L611.4,332.8 L613.4,331.6 L615.5,330.4 L617.6,329.2 L619.6,328.1 L621.7,326.9 L623.8,325.7 L626.0,324.6 L628.1,323.4 L630.2,322.2 L632.4,321.1 L634.6,319.9 L636.7,318.7 L638.9,317.6 L641.1,316.4 L643.3,315.2 L645.6,314.1 L647.8,312.9 L650.0,311.7 L652.3,310.6 L654.6,309.4 L656.9,308.3 L659.2,307.1 L661.5,305.9 L663.8,304.8 L666.1,303.6 L668.5,302.5 L670.8,301.3 L673.2,300.2 L675.5,299.0 L677.9,297.9 L680.3,296.7 L682.8,295.6 L685.2,294.4 L687.6,293.3 L690.1,292.1 L692.5,291.0 L695.0,289.8 L697.5,288.7 L700.0,287.5 L702.5,286.4 L705.0,285.2 L707.6,284.1 L710.1,282.9 L712.7,281.8 L715.2,280.6 L717.8,279.5 L720.4,278.4 L723.0,277.2 L725.7,276.1 L728.3,274.9 L730.9,273.8 L733.6,272.7 L736.3,271.5 L739.0,270.4 L741.7,269.3 L744.4,268.1 L747.1,267.0 L749.8,265.9 L752.6,264.7 L755.3,263.6 L758.1,262.5 L760.9,261.3 L763.7,260.2 L766.5,259.1 L769.3,258.0 L772.2,256.8 L775.0,255.7 L777.9,254.6 L780.7,253.5 L783.6,252.3 L786.5,251.2 L789.4,250.1 L792.4,249.0 L795.3,247.9 L798.2,246.8 L801.2,245.6 L804.2,244.5 L807.2,243.4 L810.2,242.3 L813.2,241.2 L816.2,240.1 L819.3,239.0 L822.3,237.8 L825.4,236.7 L828.5,235.6 L831.6,234.5 L834.7,233.4 L837.8,232.3 L840.9,231.2 L844.1,230.1 L847.2,229.0 L850.4,227.9 L853.6,226.8 L856.8,225.7 L860.0,224.6 L863.2,223.5 L866.5,222.4 L869.7,221.3 L873.0,220.2 L876.3,219.1 L879.5,218.0 L882.8,216.9 L886.2,215.8 L889.5,214.7 L892.8,213.6 L896.2,212.5 L899.6,211.5 L903.0,210.4 L906.4,209.3 L909.8,208.2 L913.2,207.1 L916.6,206.0 L920.1,204.9 L923.6,203.9 L927.0,202.8 L930.5,201.7 L934.0,200.6 L937.6,199.5 L941.1,198.5 L944.7,197.4 L948.2,196.3 L951.8,195.2 L955.4,194.2 L959.0,193.1 L962.6,192.0 L966.2,191.0 L969.9,189.9 L973.5,188.8 L977.2,187.8 L980.9,186.7" stroke="#f93b3d" stroke-width="5"/>
<path d="M391.3,649.0 L391.3,649.0 L391.3,649.0 L391.3,648.9 L391.3,648.9 L391.4,648.8 L391.4,648.7 L391.4,648.6 L391.4,648.4 L391.4,648.2 L391.4,648.0 L391.4,647.8 L391.4,647.5 L391.5,647.2 L391.5,646.8 L391.5,646.5 L391.5,646.1 L391.6,645.7 L391.6,645.2 L391.6,644.8 L391.7,644.3 L391.7,643.7 L391.8,643.2 L391.8,642.6 L391.9,642.1 L391.9,641.5 L392.0,640.9 L392.0,640.3 L392.1,639.6 L392.2,639.0 L392.3,638.3 L392.3,637.6 L392.4,637.0 L392.5,636.3 L392.6,635.6 L392.7,634.8 L392.8,634.1 L392.9,633.4 L393.0,632.7 L393.1,631.9 L393.2,631.2 L393.3,630.4 L393.5,629.7 L393.6,628.9 L393.7,628.2 L393.9,627.4 L394.0,626.6 L394.2,625.8 L394.3,625.1 L394.5,624.3 L394.6,623.5 L394.8,622.7 L395.0,621.9 L395.1,621.1 L395.3,620.3 L395.5,619.5 L395.7,618.7 L395.9,617.9 L396.1,617.1 L396.3,616.3 L396.5,615.4 L396.7,614.6 L397.0,613.8 L397.2,613.0 L397.4,612.2 L397.7,611.3 L397.9,610.5 L398.2,609.7 L398.4,608.9 L398.7,608.0 L398.9,607.2 L399.2,606.4 L399.5,605.5 L399.8,604.7 L400.1,603.9 L400.4,603.0 L400.7,602.2 L401.0,601.4 L401.3,600.5 L401.6,599.7 L402.0,598.8 L402.3,598.0 L402.6,597.1 L403.0,596.3 L403.3,595.5 L403.7,594.6 L404.1,593.8 L404.4,592.9 L404.8,592.1 L405.2,591.2 L405.6,590.4 L406.0,589.5 L406.4,588.7 L406.8,587.8 L407.2,587.0 L407.7,586.1 L408.1,585.3 L408.5,584.4 L409.0,583.5 L409.4,582.7 L409.9,581.8 L410.3,581.0 L410.8,580.1 L411.3,579.3 L411.8,578.4 L412.3,577.5 L412.8,576.7 L413.3,575.8 L413.8,575.0 L414.3,574.1 L414.9,573.2 L415.4,572.4 L416.0,571.5 L416.5,570.6 L417.1,569.8 L417.6,568.9 L418.2,568.0 L418.8,567.2 L419.4,566.3 L420.0,565.5 L420.6,564.6 L421.2,563.7 L421.8,562.8 L422.4,562.0 L423.1,561.1 L423.7,560.2 L424.4,559.4 L425.0,558.5 L425.7,557.6 L426.4,556.8 L427.1,555.9 L427.8,555.0 L428.5,554.2 L429.2,553.3 L429.9,552.4 L430.6,551.5 L431.3,550.7 L432.1,549.8 L432.8,548.9 L433.6,548.0 L434.3,547.2 L435.1,546.3 L435.9,545.4 L436.7,544.5 L437.5,543.7 L438.3,542.8 L439.1,541.9 L439.9,541.0 L440.7,540.2 L441.6,539.3 L442.4,538.4 L443.3,537.5 L444.2,536.6 L445.0,535.8 L445.9,534.9 L446.8,534.0 L447.7,533.1 L448.6,532.2 L449.5,531.4 L450.4,530.5 L451.4,529.6 L452.3,528.7 L453.3,527.8 L454.2,527.0 L455.2,526.1 L456.2,525.2 L457.2,524.3 L458.2,523.4 L459.2,522.5 L460.2,521.7 L461.2,520.8 L462.2,519.9 L463.3,519.0 L464.3,518.1 L465.4,517.2 L466.5,516.3 L467.5,515.5 L468.6,514.6 L469.7,513.7 L470.8,512.8 L471.9,511.9 L473.1,511.0 L474.2,510.1 L475.3,509.2 L476.5,508.4 L477.6,507.5 L478.8,506.6 L480.0,505.7 L481.2,504.8 L482.4,503.9 L483.6,503.0 L484.8,502.1 L486.0,501.2 L487.3,500.3 L488.5,499.4 L489.8,498.6 L491.1,497.7 L492.3,496.8 L493.6,495.9 L494.9,495.0 L496.2,494.1 L497.5,493.2 L498.9,492.3 L500.2,491.4 L501.5,490.5 L502.9,489.6 L504.3,488.7 L505.6,487.8 L507.0,486.9 L508.4,486.0 L509.8,485.1 L511.2,484.2 L512.7,483.3 L514.1,482.4 L515.5,481.5 L517.0,480.7 L518.5,479.8 L519.9,478.9 L521.4,478.0 L522.9,477.1 L524.4,476.2 L526.0,475.3 L527.5,474.4 L529.0,473.5 L530.6,472.6 L532.1,471.7 L533.7,470.8 L535.3,469.9 L536.9,469.0 L538.5,468.1 L540.1,467.1 L541.7,466.2 L543.3,465.3 L545.0,464.4 L546.6,463.5 L548.3,462.6 L550.0,461.7 L551.7,460.8 L553.4,459.9 L555.1,459.0 L556.8,458.1 L558.5,457.2 L560.2,456.3 L562.0,455.4 L563.8,454.5 L565.5,453.6 L567.3,452.7 L569.1,451.8 L570.9,450.9 L572.7,450.0 L574.6,449.0 L576.4,448.1 L578.2,447.2 L580.1,446.3 L582.0,445.4 L583.8,444.5 L585.7,443.6 L587.6,442.7 L589.6,441.8 L591.5,440.9 L593.4,440.0 L595.4,439.0 L597.3,438.1 L599.3,437.2 L601.3,436.3 L603.3,435.4 L605.3,434.5 L607.3,433.6 L609.3,432.7 L611.4,431.7 L613.4,430.8 L615.5,429.9 L617.6,429.0 L619.6,428.1 L621.7,427.2 L623.8,426.3 L626.0,425.4 L628.1,424.4 L630.2,423.5 L632.4,422.6 L634.6,421.7 L636.7,420.8 L638.9,419.9 L641.1,418.9 L643.3,418.0 L645.6,417.1 L647.8,416.2 L650.0,415.3 L652.3,414.4 L654.6,413.4 L656.9,412.5 L659.2,411.6 L661.5,410.7 L663.8,409.8 L666.1,408.8 L668.5,407.9 L670.8,407.0 L673.2,406.1 L675.5,405.2 L677.9,404.2 L680.3,403.3 L682.8,402.4 L685.2,401.5 L687.6,400.5 L690.1,399.6 L692.5,398.7 L695.0,397.8 L697.5,396.9 L700.0,395.9 L702.5,395.0 L705.0,394.1 L707.6,393.2 L710.1,392.2 L712.7,391.3 L715.2,390.4 L717.8,389.5 L720.4,388.5 L723.0,387.6 L725.7,386.7 L728.3,385.7 L730.9,384.8 L733.6,383.9 L736.3,383.0 L739.0,382.0 L741.7,381.1 L744.4,380.2 L747.1,379.3 L749.8,378.3 L752.6,377.4 L755.3,376.5 L758.1,375.5 L760.9,374.6 L763.7,373.7 L766.5,372.7 L769.3,371.8 L772.2,370.9 L775.0,369.9 L777.9,369.0 L780.7,368.1 L783.6,367.1 L786.5,366.2 L789.4,365.3 L792.4,364.3 L795.3,363.4 L798.2,362.5 L801.2,361.5 L804.2,360.6 L807.2,359.7 L810.2,358.7 L813.2,357.8 L816.2,356.9 L819.3,355.9 L822.3,355.0 L825.4,354.1 L828.5,353.1 L831.6,352.2 L834.7,351.3 L837.8,350.3 L840.9,349.4 L844.1,348.4 L847.2,347.5 L850.4,346.6 L853.6,345.6 L856.8,344.7 L860.0,343.7 L863.2,342.8 L866.5,341.9 L869.7,340.9 L873.0,340.0 L876.3,339.0 L879.5,338.1 L882.8,337.2 L886.2,336.2 L889.5,335.3 L892.8,334.3 L896.2,333.4 L899.6,332.4 L903.0,331.5 L906.4,330.6 L909.8,329.6 L913.2,328.7 L916.6,327.7 L920.1,326.8 L923.6,325.8 L927.0,324.9 L930.5,323.9 L934.0,323.0 L937.6,322.0 L941.1,321.1 L944.7,320.2 L948.2,319.2 L951.8,318.3 L955.4,317.3 L959.0,316.4 L962.6,315.4 L966.2,314.5 L969.9,313.5 L973.5,312.6 L977.2,311.6 L980.9,310.7" stroke="#4b4b4b" stroke-width="4.6"/>
<path d="M391.3,645.7 L391.3,645.7 L391.3,645.7 L391.3,645.7 L391.3,645.7 L391.4,645.6 L391.4,645.5 L391.4,645.4 L391.4,645.3 L391.4,645.2 L391.4,645.0 L391.4,644.8 L391.4,644.6 L391.5,644.4 L391.5,644.1 L391.5,643.9 L391.5,643.6 L391.6,643.2 L391.6,642.9 L391.6,642.5 L391.7,642.2 L391.7,641.8 L391.8,641.3 L391.8,640.9 L391.9,640.5 L391.9,640.0 L392.0,639.5 L392.0,639.0 L392.1,638.5 L392.2,638.0 L392.3,637.5 L392.3,636.9 L392.4,636.4 L392.5,635.8 L392.6,635.2 L392.7,634.6 L392.8,634.0 L392.9,633.4 L393.0,632.8 L393.1,632.2 L393.2,631.6 L393.3,631.0 L393.5,630.3 L393.6,629.7 L393.7,629.1 L393.9,628.4 L394.0,627.7 L394.2,627.1 L394.3,626.4 L394.5,625.7 L394.6,625.1 L394.8,624.4 L395.0,623.7 L395.1,623.0 L395.3,622.3 L395.5,621.6 L395.7,620.9 L395.9,620.2 L396.1,619.5 L396.3,618.7 L396.5,618.0 L396.7,617.3 L397.0,616.6 L397.2,615.8 L397.4,615.1 L397.7,614.4 L397.9,613.6 L398.2,612.9 L398.4,612.2 L398.7,611.4 L398.9,610.7 L399.2,609.9 L399.5,609.1 L399.8,608.4 L400.1,607.6 L400.4,606.9 L400.7,606.1 L401.0,605.3 L401.3,604.6 L401.6,603.8 L402.0,603.0 L402.3,602.2 L402.6,601.5 L403.0,600.7 L403.3,599.9 L403.7,599.1 L404.1,598.3 L404.4,597.5 L404.8,596.8 L405.2,596.0 L405.6,595.2 L406.0,594.4 L406.4,593.6 L406.8,592.8 L407.2,592.0 L407.7,591.2 L408.1,590.4 L408.5,589.6 L409.0,588.8 L409.4,588.0 L409.9,587.1 L410.3,586.3 L410.8,585.5 L411.3,584.7 L411.8,583.9 L412.3,583.1 L412.8,582.3 L413.3,581.4 L413.8,580.6 L414.3,579.8 L414.9,579.0 L415.4,578.1 L416.0,577.3 L416.5,576.5 L417.1,575.7 L417.6,574.8 L418.2,574.0 L418.8,573.2 L419.4,572.3 L420.0,571.5 L420.6,570.7 L421.2,569.8 L421.8,569.0 L422.4,568.2 L423.1,567.3 L423.7,566.5 L424.4,565.6 L425.0,564.8 L425.7,564.0 L426.4,563.1 L427.1,562.3 L427.8,561.4 L428.5,560.6 L429.2,559.7 L429.9,558.9 L430.6,558.0 L431.3,557.2 L432.1,556.3 L432.8,555.5 L433.6,554.6 L434.3,553.8 L435.1,552.9 L435.9,552.1 L436.7,551.2 L437.5,550.4 L438.3,549.5 L439.1,548.6 L439.9,547.8 L440.7,546.9 L441.6,546.1 L442.4,545.2 L443.3,544.3 L444.2,543.5 L445.0,542.6 L445.9,541.8 L446.8,540.9 L447.7,540.0 L448.6,539.2 L449.5,538.3 L450.4,537.4 L451.4,536.6 L452.3,535.7 L453.3,534.8 L454.2,534.0 L455.2,533.1 L456.2,532.2 L457.2,531.4 L458.2,530.5 L459.2,529.6 L460.2,528.7 L461.2,527.9 L462.2,527.0 L463.3,526.1 L464.3,525.3 L465.4,524.4 L466.5,523.5 L467.5,522.6 L468.6,521.8 L469.7,520.9 L470.8,520.0 L471.9,519.1 L473.1,518.3 L474.2,517.4 L475.3,516.5 L476.5,515.6 L477.6,514.7 L478.8,513.9 L480.0,513.0 L481.2,512.1 L482.4,511.2 L483.6,510.4 L484.8,509.5 L486.0,508.6 L487.3,507.7 L488.5,506.8 L489.8,506.0 L491.1,505.1 L492.3,504.2 L493.6,503.3 L494.9,502.4 L496.2,501.5 L497.5,500.7 L498.9,499.8 L500.2,498.9 L501.5,498.0 L502.9,497.1 L504.3,496.2 L505.6,495.4 L507.0,494.5 L508.4,493.6 L509.8,492.7 L511.2,491.8 L512.7,490.9 L514.1,490.0 L515.5,489.2 L517.0,488.3 L518.5,487.4 L519.9,486.5 L521.4,485.6 L522.9,484.7 L524.4,483.8 L526.0,483.0 L527.5,482.1 L529.0,481.2 L530.6,480.3 L532.1,479.4 L533.7,478.5 L535.3,477.6 L536.9,476.8 L538.5,475.9 L540.1,475.0 L541.7,474.1 L543.3,473.2 L545.0,472.3 L546.6,471.4 L548.3,470.5 L550.0,469.7 L551.7,468.8 L553.4,467.9 L555.1,467.0 L556.8,466.1 L558.5,465.2 L560.2,464.3 L562.0,463.4 L563.8,462.6 L565.5,461.7 L567.3,460.8 L569.1,459.9 L570.9,459.0 L572.7,458.1 L574.6,457.2 L576.4,456.3 L578.2,455.5 L580.1,454.6 L582.0,453.7 L583.8,452.8 L585.7,451.9 L587.6,451.0 L589.6,450.1 L591.5,449.2 L593.4,448.4 L595.4,447.5 L597.3,446.6 L599.3,445.7 L601.3,444.8 L603.3,443.9 L605.3,443.0 L607.3,442.2 L609.3,441.3 L611.4,440.4 L613.4,439.5 L615.5,438.6 L617.6,437.7 L619.6,436.8 L621.7,436.0 L623.8,435.1 L626.0,434.2 L628.1,433.3 L630.2,432.4 L632.4,431.5 L634.6,430.6 L636.7,429.8 L638.9,428.9 L641.1,428.0 L643.3,427.1 L645.6,426.2 L647.8,425.3 L650.0,424.5 L652.3,423.6 L654.6,422.7 L656.9,421.8 L659.2,420.9 L661.5,420.0 L663.8,419.2 L666.1,418.3 L668.5,417.4 L670.8,416.5 L673.2,415.6 L675.5,414.8 L677.9,413.9 L680.3,413.0 L682.8,412.1 L685.2,411.2 L687.6,410.4 L690.1,409.5 L692.5,408.6 L695.0,407.7 L697.5,406.8 L700.0,406.0 L702.5,405.1 L705.0,404.2 L707.6,403.3 L710.1,402.5 L712.7,401.6 L715.2,400.7 L717.8,399.8 L720.4,398.9 L723.0,398.1 L725.7,397.2 L728.3,396.3 L730.9,395.4 L733.6,394.6 L736.3,393.7 L739.0,392.8 L741.7,391.9 L744.4,391.1 L747.1,390.2 L749.8,389.3 L752.6,388.5 L755.3,387.6 L758.1,386.7 L760.9,385.8 L763.7,385.0 L766.5,384.1 L769.3,383.2 L772.2,382.4 L775.0,381.5 L777.9,380.6 L780.7,379.8 L783.6,378.9 L786.5,378.0 L789.4,377.2 L792.4,376.3 L795.3,375.4 L798.2,374.6 L801.2,373.7 L804.2,372.8 L807.2,372.0 L810.2,371.1 L813.2,370.2 L816.2,369.4 L819.3,368.5 L822.3,367.6 L825.4,366.8 L828.5,365.9 L831.6,365.1 L834.7,364.2 L837.8,363.3 L840.9,362.5 L844.1,361.6 L847.2,360.8 L850.4,359.9 L853.6,359.0 L856.8,358.2 L860.0,357.3 L863.2,356.5 L866.5,355.6 L869.7,354.8 L873.0,353.9 L876.3,353.0 L879.5,352.2 L882.8,351.3 L886.2,350.5 L889.5,349.6 L892.8,348.8 L896.2,347.9 L899.6,347.1 L903.0,346.2 L906.4,345.4 L909.8,344.5 L913.2,343.7 L916.6,342.8 L920.1,342.0 L923.6,341.1 L927.0,340.3 L930.5,339.4 L934.0,338.6 L937.6,337.7 L941.1,336.9 L944.7,336.0 L948.2,335.2 L951.8,334.4 L955.4,333.5 L959.0,332.7 L962.6,331.8 L966.2,331.0 L969.9,330.1 L973.5,329.3 L977.2,328.5 L980.9,327.6" stroke="#0068e0" stroke-width="4.8"/>
<path d="M391.3,653.1 L391.3,653.1 L391.3,653.1 L391.3,653.0 L391.3,653.0 L391.4,653.0 L391.4,652.9 L391.4,652.9 L391.4,652.8 L391.4,652.7 L391.4,652.6 L391.4,652.5 L391.4,652.3 L391.5,652.2 L391.5,652.0 L391.5,651.8 L391.5,651.6 L391.6,651.4 L391.6,651.2 L391.6,651.0 L391.7,650.7 L391.7,650.4 L391.8,650.2 L391.8,649.9 L391.9,649.6 L391.9,649.2 L392.0,648.9 L392.0,648.6 L392.1,648.2 L392.2,647.9 L392.3,647.5 L392.3,647.1 L392.4,646.7 L392.5,646.3 L392.6,645.9 L392.7,645.5 L392.8,645.1 L392.9,644.7 L393.0,644.2 L393.1,643.8 L393.2,643.3 L393.3,642.9 L393.5,642.4 L393.6,641.9 L393.7,641.5 L393.9,641.0 L394.0,640.5 L394.2,640.0 L394.3,639.5 L394.5,639.0 L394.6,638.5 L394.8,638.0 L395.0,637.5 L395.1,637.0 L395.3,636.4 L395.5,635.9 L395.7,635.4 L395.9,634.8 L396.1,634.3 L396.3,633.7 L396.5,633.2 L396.7,632.6 L397.0,632.0 L397.2,631.5 L397.4,630.9 L397.7,630.3 L397.9,629.8 L398.2,629.2 L398.4,628.6 L398.7,628.0 L398.9,627.4 L399.2,626.8 L399.5,626.2 L399.8,625.6 L400.1,625.0 L400.4,624.4 L400.7,623.8 L401.0,623.2 L401.3,622.6 L401.6,622.0 L402.0,621.3 L402.3,620.7 L402.6,620.1 L403.0,619.4 L403.3,618.8 L403.7,618.2 L404.1,617.5 L404.4,616.9 L404.8,616.2 L405.2,615.6 L405.6,614.9 L406.0,614.3 L406.4,613.6 L406.8,613.0 L407.2,612.3 L407.7,611.6 L408.1,611.0 L408.5,610.3 L409.0,609.6 L409.4,608.9 L409.9,608.3 L410.3,607.6 L410.8,606.9 L411.3,606.2 L411.8,605.5 L412.3,604.9 L412.8,604.2 L413.3,603.5 L413.8,602.8 L414.3,602.1 L414.9,601.4 L415.4,600.7 L416.0,600.0 L416.5,599.3 L417.1,598.6 L417.6,597.8 L418.2,597.1 L418.8,596.4 L419.4,595.7 L420.0,595.0 L420.6,594.3 L421.2,593.5 L421.8,592.8 L422.4,592.1 L423.1,591.4 L423.7,590.6 L424.4,589.9 L425.0,589.2 L425.7,588.4 L426.4,587.7 L427.1,587.0 L427.8,586.2 L428.5,585.5 L429.2,584.7 L429.9,584.0 L430.6,583.3 L431.3,582.5 L432.1,581.8 L432.8,581.0 L433.6,580.3 L434.3,579.5 L435.1,578.7 L435.9,578.0 L436.7,577.2 L437.5,576.5 L438.3,575.7 L439.1,574.9 L439.9,574.2 L440.7,573.4 L441.6,572.6 L442.4,571.9 L443.3,571.1 L444.2,570.3 L445.0,569.5 L445.9,568.8 L446.8,568.0 L447.7,567.2 L448.6,566.4 L449.5,565.7 L450.4,564.9 L451.4,564.1 L452.3,563.3 L453.3,562.5 L454.2,561.7 L455.2,560.9 L456.2,560.1 L457.2,559.4 L458.2,558.6 L459.2,557.8 L460.2,557.0 L461.2,556.2 L462.2,555.4 L463.3,554.6 L464.3,553.8 L465.4,553.0 L466.5,552.2 L467.5,551.4 L468.6,550.6 L469.7,549.8 L470.8,549.0 L471.9,548.1 L473.1,547.3 L474.2,546.5 L475.3,545.7 L476.5,544.9 L477.6,544.1 L478.8,543.3 L480.0,542.5 L481.2,541.6 L482.4,540.8 L483.6,540.0 L484.8,539.2 L486.0,538.4 L487.3,537.5 L488.5,536.7 L489.8,535.9 L491.1,535.1 L492.3,534.2 L493.6,533.4 L494.9,532.6 L496.2,531.7 L497.5,530.9 L498.9,530.1 L500.2,529.3 L501.5,528.4 L502.9,527.6 L504.3,526.8 L505.6,525.9 L507.0,525.1 L508.4,524.2 L509.8,523.4 L511.2,522.6 L512.7,521.7 L514.1,520.9 L515.5,520.0 L517.0,519.2 L518.5,518.4 L519.9,517.5 L521.4,516.7 L522.9,515.8 L524.4,515.0 L526.0,514.1 L527.5,513.3 L529.0,512.4 L530.6,511.6 L532.1,510.7 L533.7,509.9 L535.3,509.0 L536.9,508.2 L538.5,507.3 L540.1,506.5 L541.7,505.6 L543.3,504.8 L545.0,503.9 L546.6,503.1 L548.3,502.2 L550.0,501.3 L551.7,500.5 L553.4,499.6 L555.1,498.8 L556.8,497.9 L558.5,497.0 L560.2,496.2 L562.0,495.3 L563.8,494.5 L565.5,493.6 L567.3,492.7 L569.1,491.9 L570.9,491.0 L572.7,490.1 L574.6,489.3 L576.4,488.4 L578.2,487.5 L580.1,486.7 L582.0,485.8 L583.8,484.9 L585.7,484.1 L587.6,483.2 L589.6,482.3 L591.5,481.4 L593.4,480.6 L595.4,479.7 L597.3,478.8 L599.3,478.0 L601.3,477.1 L603.3,476.2 L605.3,475.3 L607.3,474.5 L609.3,473.6 L611.4,472.7 L613.4,471.8 L615.5,471.0 L617.6,470.1 L619.6,469.2 L621.7,468.3 L623.8,467.4 L626.0,466.6 L628.1,465.7 L630.2,464.8 L632.4,463.9 L634.6,463.0 L636.7,462.2 L638.9,461.3 L641.1,460.4 L643.3,459.5 L645.6,458.6 L647.8,457.8 L650.0,456.9 L652.3,456.0 L654.6,455.1 L656.9,454.2 L659.2,453.3 L661.5,452.5 L663.8,451.6 L666.1,450.7 L668.5,449.8 L670.8,448.9 L673.2,448.0 L675.5,447.1 L677.9,446.2 L680.3,445.4 L682.8,444.5 L685.2,443.6 L687.6,442.7 L690.1,441.8 L692.5,440.9 L695.0,440.0 L697.5,439.1 L700.0,438.3 L702.5,437.4 L705.0,436.5 L707.6,435.6 L710.1,434.7 L712.7,433.8 L715.2,432.9 L717.8,432.0 L720.4,431.1 L723.0,430.2 L725.7,429.3 L728.3,428.5 L730.9,427.6 L733.6,426.7 L736.3,425.8 L739.0,424.9 L741.7,424.0 L744.4,423.1 L747.1,422.2 L749.8,421.3 L752.6,420.4 L755.3,419.5 L758.1,418.6 L760.9,417.7 L763.7,416.8 L766.5,415.9 L769.3,415.1 L772.2,414.2 L775.0,413.3 L777.9,412.4 L780.7,411.5 L783.6,410.6 L786.5,409.7 L789.4,408.8 L792.4,407.9 L795.3,407.0 L798.2,406.1 L801.2,405.2 L804.2,404.3 L807.2,403.4 L810.2,402.5 L813.2,401.6 L816.2,400.7 L819.3,399.8 L822.3,398.9 L825.4,398.0 L828.5,397.1 L831.6,396.3 L834.7,395.4 L837.8,394.5 L840.9,393.6 L844.1,392.7 L847.2,391.8 L850.4,390.9 L853.6,390.0 L856.8,389.1 L860.0,388.2 L863.2,387.3 L866.5,386.4 L869.7,385.5 L873.0,384.6 L876.3,383.7 L879.5,382.8 L882.8,381.9 L886.2,381.0 L889.5,380.1 L892.8,379.2 L896.2,378.3 L899.6,377.4 L903.0,376.5 L906.4,375.6 L909.8,374.8 L913.2,373.9 L916.6,373.0 L920.1,372.1 L923.6,371.2 L927.0,370.3 L930.5,369.4 L934.0,368.5 L937.6,367.6 L941.1,366.7 L944.7,365.8 L948.2,364.9 L951.8,364.0 L955.4,363.1 L959.0,362.2 L962.6,361.3 L966.2,360.4 L969.9,359.5 L973.5,358.7 L977.2,357.8 L980.9,356.9" stroke="#00ad66" stroke-width="4.2"/>
<path d="M391.3,666.1 L391.3,666.1 L391.3,666.1 L391.3,666.1 L391.3,666.1 L391.4,666.0 L391.4,666.0 L391.4,665.9 L391.4,665.8 L391.4,665.7 L391.4,665.6 L391.4,665.4 L391.4,665.3 L391.5,665.1 L391.5,664.9 L391.5,664.7 L391.5,664.5 L391.6,664.2 L391.6,663.9 L391.6,663.7 L391.7,663.4 L391.7,663.0 L391.8,662.7 L391.8,662.4 L391.9,662.0 L391.9,661.6 L392.0,661.3 L392.0,660.9 L392.1,660.4 L392.2,660.0 L392.3,659.6 L392.3,659.2 L392.4,658.7 L392.5,658.3 L392.6,657.8 L392.7,657.3 L392.8,656.8 L392.9,656.4 L393.0,655.9 L393.1,655.4 L393.2,654.8 L393.3,654.3 L393.5,653.8 L393.6,653.3 L393.7,652.7 L393.9,652.2 L394.0,651.6 L394.2,651.1 L394.3,650.5 L394.5,649.9 L394.6,649.4 L394.8,648.8 L395.0,648.2 L395.1,647.6 L395.3,647.0 L395.5,646.4 L395.7,645.8 L395.9,645.2 L396.1,644.6 L396.3,644.0 L396.5,643.4 L396.7,642.8 L397.0,642.1 L397.2,641.5 L397.4,640.9 L397.7,640.2 L397.9,639.6 L398.2,639.0 L398.4,638.3 L398.7,637.7 L398.9,637.0 L399.2,636.3 L399.5,635.7 L399.8,635.0 L400.1,634.3 L400.4,633.7 L400.7,633.0 L401.0,632.3 L401.3,631.6 L401.6,630.9 L402.0,630.2 L402.3,629.6 L402.6,628.9 L403.0,628.2 L403.3,627.5 L403.7,626.8 L404.1,626.0 L404.4,625.3 L404.8,624.6 L405.2,623.9 L405.6,623.2 L406.0,622.5 L406.4,621.7 L406.8,621.0 L407.2,620.3 L407.7,619.6 L408.1,618.8 L408.5,618.1 L409.0,617.4 L409.4,616.6 L409.9,615.9 L410.3,615.1 L410.8,614.4 L411.3,613.6 L411.8,612.9 L412.3,612.1 L412.8,611.3 L413.3,610.6 L413.8,609.8 L414.3,609.1 L414.9,608.3 L415.4,607.5 L416.0,606.7 L416.5,606.0 L417.1,605.2 L417.6,604.4 L418.2,603.6 L418.8,602.8 L419.4,602.1 L420.0,601.3 L420.6,600.5 L421.2,599.7 L421.8,598.9 L422.4,598.1 L423.1,597.3 L423.7,596.5 L424.4,595.7 L425.0,594.9 L425.7,594.1 L426.4,593.3 L427.1,592.5 L427.8,591.7 L428.5,590.8 L429.2,590.0 L429.9,589.2 L430.6,588.4 L431.3,587.6 L432.1,586.7 L432.8,585.9 L433.6,585.1 L434.3,584.2 L435.1,583.4 L435.9,582.6 L436.7,581.7 L437.5,580.9 L438.3,580.1 L439.1,579.2 L439.9,578.4 L440.7,577.5 L441.6,576.7 L442.4,575.8 L443.3,575.0 L444.2,574.1 L445.0,573.3 L445.9,572.4 L446.8,571.6 L447.7,570.7 L448.6,569.8 L449.5,569.0 L450.4,568.1 L451.4,567.3 L452.3,566.4 L453.3,565.5 L454.2,564.6 L455.2,563.8 L456.2,562.9 L457.2,562.0 L458.2,561.1 L459.2,560.3 L460.2,559.4 L461.2,558.5 L462.2,557.6 L463.3,556.7 L464.3,555.8 L465.4,555.0 L466.5,554.1 L467.5,553.2 L468.6,552.3 L469.7,551.4 L470.8,550.5 L471.9,549.6 L473.1,548.7 L474.2,547.8 L475.3,546.9 L476.5,546.0 L477.6,545.1 L478.8,544.2 L480.0,543.2 L481.2,542.3 L482.4,541.4 L483.6,540.5 L484.8,539.6 L486.0,538.7 L487.3,537.8 L488.5,536.8 L489.8,535.9 L491.1,535.0 L492.3,534.1 L493.6,533.1 L494.9,532.2 L496.2,531.3 L497.5,530.4 L498.9,529.4 L500.2,528.5 L501.5,527.6 L502.9,526.6 L504.3,525.7 L505.6,524.7 L507.0,523.8 L508.4,522.9 L509.8,521.9 L511.2,521.0 L512.7,520.0 L514.1,519.1 L515.5,518.1 L517.0,517.2 L518.5,516.2 L519.9,515.3 L521.4,514.3 L522.9,513.4 L524.4,512.4 L526.0,511.5 L527.5,510.5 L529.0,509.5 L530.6,508.6 L532.1,507.6 L533.7,506.6 L535.3,505.7 L536.9,504.7 L538.5,503.7 L540.1,502.8 L541.7,501.8 L543.3,500.8 L545.0,499.9 L546.6,498.9 L548.3,497.9 L550.0,496.9 L551.7,495.9 L553.4,495.0 L555.1,494.0 L556.8,493.0 L558.5,492.0 L560.2,491.0 L562.0,490.0 L563.8,489.1 L565.5,488.1 L567.3,487.1 L569.1,486.1 L570.9,485.1 L572.7,484.1 L574.6,483.1 L576.4,482.1 L578.2,481.1 L580.1,480.1 L582.0,479.1 L583.8,478.1 L585.7,477.1 L587.6,476.1 L589.6,475.1 L591.5,474.1 L593.4,473.1 L595.4,472.1 L597.3,471.1 L599.3,470.0 L601.3,469.0 L603.3,468.0 L605.3,467.0 L607.3,466.0 L609.3,465.0 L611.4,464.0 L613.4,462.9 L615.5,461.9 L617.6,460.9 L619.6,459.9 L621.7,458.9 L623.8,457.8 L626.0,456.8 L628.1,455.8 L630.2,454.7 L632.4,453.7 L634.6,452.7 L636.7,451.7 L638.9,450.6 L641.1,449.6 L643.3,448.5 L645.6,447.5 L647.8,446.5 L650.0,445.4 L652.3,444.4 L654.6,443.4 L656.9,442.3 L659.2,441.3 L661.5,440.2 L663.8,439.2 L666.1,438.1 L668.5,437.1 L670.8,436.0 L673.2,435.0 L675.5,433.9 L677.9,432.9 L680.3,431.8 L682.8,430.8 L685.2,429.7 L687.6,428.7 L690.1,427.6 L692.5,426.6 L695.0,425.5 L697.5,424.4 L700.0,423.4 L702.5,422.3 L705.0,421.2 L707.6,420.2 L710.1,419.1 L712.7,418.1 L715.2,417.0 L717.8,415.9 L720.4,414.8 L723.0,413.8 L725.7,412.7 L728.3,411.6 L730.9,410.6 L733.6,409.5 L736.3,408.4 L739.0,407.3 L741.7,406.2 L744.4,405.2 L747.1,404.1 L749.8,403.0 L752.6,401.9 L755.3,400.8 L758.1,399.8 L760.9,398.7 L763.7,397.6 L766.5,396.5 L769.3,395.4 L772.2,394.3 L775.0,393.2 L777.9,392.1 L780.7,391.1 L783.6,390.0 L786.5,388.9 L789.4,387.8 L792.4,386.7 L795.3,385.6 L798.2,384.5 L801.2,383.4 L804.2,382.3 L807.2,381.2 L810.2,380.1 L813.2,379.0 L816.2,377.9 L819.3,376.8 L822.3,375.7 L825.4,374.6 L828.5,373.4 L831.6,372.3 L834.7,371.2 L837.8,370.1 L840.9,369.0 L844.1,367.9 L847.2,366.8 L850.4,365.7 L853.6,364.5 L856.8,363.4 L860.0,362.3 L863.2,361.2 L866.5,360.1 L869.7,359.0 L873.0,357.8 L876.3,356.7 L879.5,355.6 L882.8,354.5 L886.2,353.3 L889.5,352.2 L892.8,351.1 L896.2,350.0 L899.6,348.8 L903.0,347.7 L906.4,346.6 L909.8,345.4 L913.2,344.3 L916.6,343.2 L920.1,342.0 L923.6,340.9 L927.0,339.8 L930.5,338.6 L934.0,337.5 L937.6,336.4 L941.1,335.2 L944.7,334.1 L948.2,332.9 L951.8,331.8 L955.4,330.7 L959.0,329.5 L962.6,328.4 L966.2,327.2 L969.9,326.1 L973.5,324.9 L977.2,323.8 L980.9,322.6" stroke="#c07ae0" stroke-width="4.8"/>
</g>
<g>
<circle cx="538.4" cy="393.2" r="7" fill="#f93b3d"/>
<circle cx="685.9" cy="292.3" r="7" fill="#f93b3d"/>
<circle cx="833.5" cy="219.7" r="7" fill="#f93b3d"/>
<rect x="531.9" y="457.8" width="13" height="13" fill="#4b4b4b"/>
<rect x="679.4" y="395.5" width="13" height="13" fill="#4b4b4b"/>
<rect x="827.0" y="345.5" width="13" height="13" fill="#4b4b4b"/>
<path d="M538.4,468.4 L545.9,480.6 L530.9,480.6Z" fill="#0068e0"/>
<path d="M685.9,402.0 L693.4,414.6 L678.4,414.6Z" fill="#0068e0"/>
<path d="M833.5,356.0 L841.0,368.2 L826.0,368.2Z" fill="#0068e0"/>
<path d="M538.4,486.8 L546.7,495.8 L538.4,504.8 L530.1,495.8Z" fill="#c07ae0"/>
<path d="M685.9,423.5 L694.2,432.5 L685.9,441.5 L677.6,432.5Z" fill="#c07ae0"/>
<path d="M833.5,369.0 L841.8,378.0 L833.5,387.0 L825.2,378.0Z" fill="#c07ae0"/>
<path d="M530.9,506.5 L545.9,506.5 L538.4,521.7Z" fill="#00ad66"/>
<path d="M678.4,434.0 L693.4,434.0 L685.9,449.0Z" fill="#00ad66"/>
<path d="M826.0,387.0 L841.0,387.0 L833.5,401.8Z" fill="#00ad66"/>
</g>
<g font-size="44" fill="#000" stroke="#000" stroke-width="0.35">
<text transform="translate(380,587.9) scale(0.94,1)" text-anchor="end">0.1</text>
<text transform="translate(380,489.0) scale(0.94,1)" text-anchor="end">0.2</text>
<text transform="translate(380,390.1) scale(0.94,1)" text-anchor="end">0.3</text>
<text transform="translate(380,291.2) scale(0.94,1)" text-anchor="end">0.4</text>
<text transform="translate(380,192.3) scale(0.94,1)" text-anchor="end">0.5</text>
<text transform="translate(390.9,708.5) scale(0.94,1)" text-anchor="middle">0</text>
<text transform="translate(538.4,708.5) scale(0.94,1)" text-anchor="middle">10</text>
<text transform="translate(685.9,708.5) scale(0.94,1)" text-anchor="middle">20</text>
<text transform="translate(833.4,708.5) scale(0.94,1)" text-anchor="middle">30</text>
<text transform="translate(980.9,708.5) scale(0.94,1)" text-anchor="middle">40</text>
</g>
<rect x="1540.0" y="1065.0" width="32" height="32" fill="#767676"/>
<circle cx="1555.6" cy="1164.2" r="18" fill="#f93b3d"/>
<path d="M1556.0,1307.0 L1577.5,1343.6 L1534.5,1343.6Z" fill="#0068e0"/>
<path d="M1534.5,1402.0 L1577.5,1402.0 L1556.0,1438.6Z" fill="#00ad66"/>
<path d="M1555.6,1474.3 L1578.3,1497.0 L1555.6,1519.7 L1532.9,1497.0Z" fill="#c07ae0"/>
<g font-size="68" fill="#000">
<text x="1649" y="1104.4">Cell</text>
<text x="1651" y="1188">PAN</text>
<text x="1593" y="1270.8">PAN/Cell</text>
<text x="1651" y="1354.5">30/70</text>
<text x="1651" y="1437.5">50/50</text>
<text x="1651" y="1520.5">70/30</text>
</g>
</svg></body></html>
